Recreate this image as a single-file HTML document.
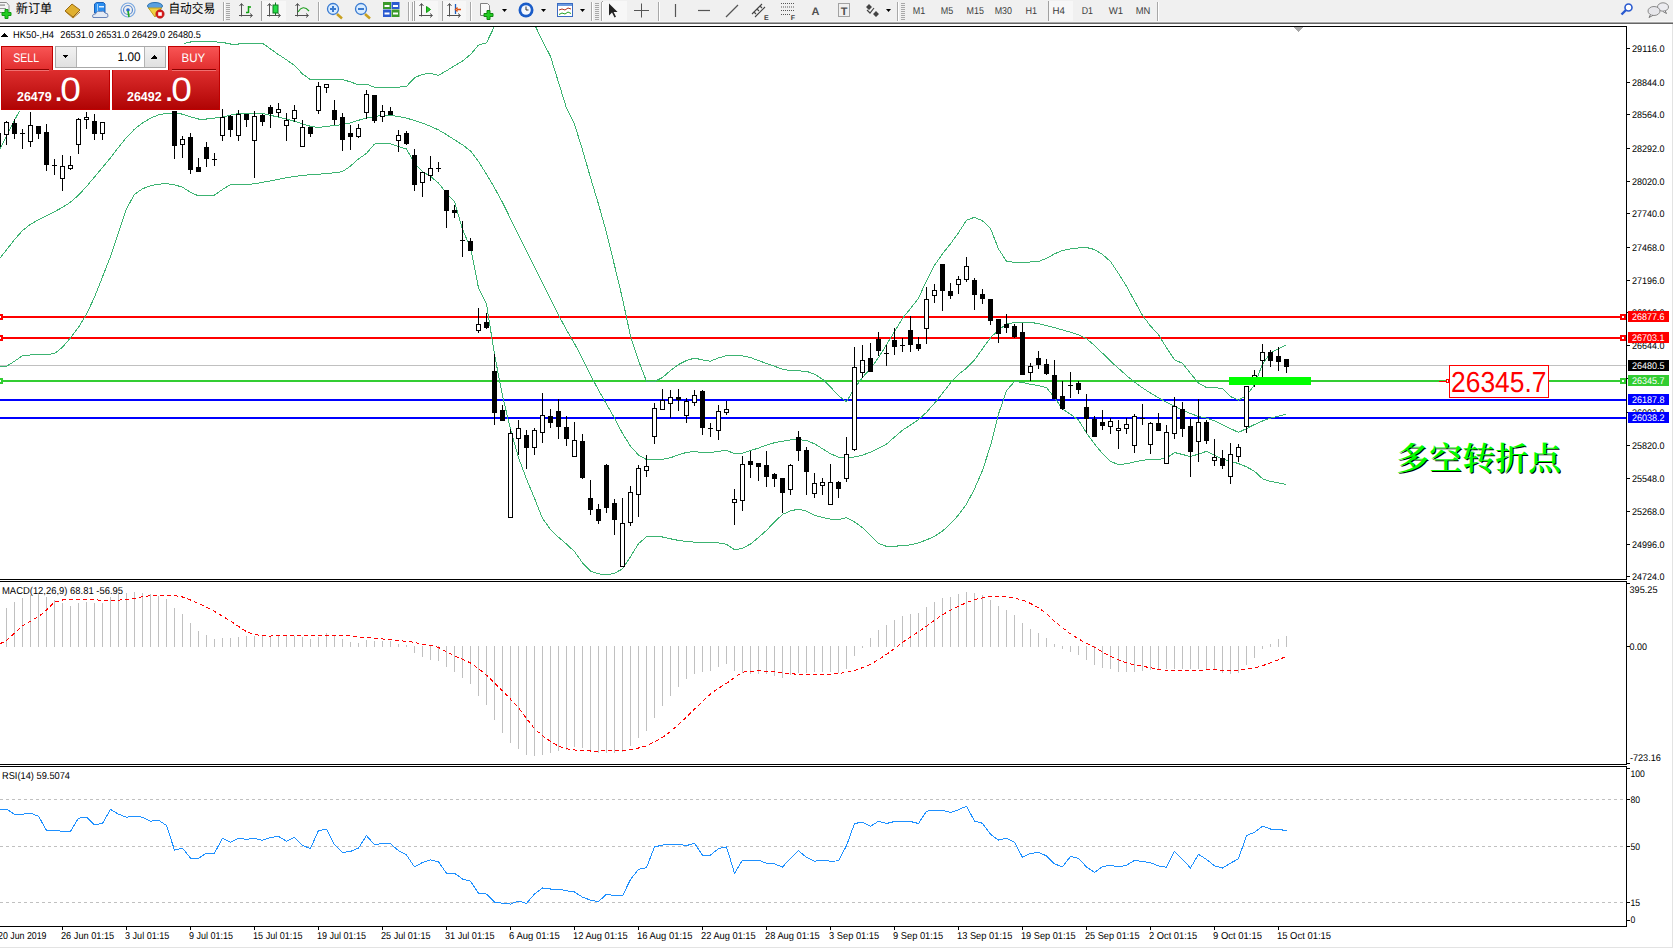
<!DOCTYPE html>
<html><head><meta charset="utf-8"><title>HK50-,H4</title>
<style>html,body{margin:0;padding:0;background:#f0f0f0;overflow:hidden}svg{display:block}text{white-space:pre}</style>
</head><body>
<svg width="1673" height="948" viewBox="0 0 1673 948" shape-rendering="crispEdges" text-rendering="geometricPrecision">
<rect x="0" y="0" width="1673" height="948" fill="#f0f0f0"/>
<rect x="0" y="21" width="1673" height="1" fill="#f6f6f6"/>
<rect x="0" y="22" width="1673" height="1" fill="#a8a8a8"/>
<rect x="0" y="23" width="1673" height="1" fill="#666666"/>
<rect x="0" y="24" width="1672" height="923" fill="#ffffff"/>
<rect x="1672" y="24" width="1" height="924" fill="#e3e3e3"/>
<rect x="0" y="947" width="1673" height="1" fill="#e3e3e3"/>
<g shape-rendering="geometricPrecision">
<g><path d="M-1.5 2.5h8l2.5 3v7h-10.5z" fill="#f4f4f4" stroke="#8a8a8a"/><rect x="0" y="4.5" width="5" height="1.2" fill="#8a8a8a"/><rect x="0" y="8" width="6" height="1" fill="#9a9a9a"/><path d="M5 9.5h3v3h3v3h-3v3h-3v-3h-3v-3h3z" fill="#22cc22" stroke="#119911" stroke-width="1"/></g>
<text x="15.8" y="13.3" font-size="13" fill="#000" text-anchor="start" font-weight="normal" font-family="'Liberation Sans', 'Noto Sans CJK SC', sans-serif" textLength="36.5" lengthAdjust="spacingAndGlyphs">新订单</text>
<path d="M65 11 L72 4 L80 10 L73 17 Z" fill="#e0b030" stroke="#9a6a10"/><path d="M66 12 L73 18 L80 12" fill="none" stroke="#b07a18"/>
<path d="M94.5 4 l2 -1.5 h7 l1.5 1.5 v9 h-10.5 z" fill="#2a8ef0" stroke="#1a60b8"/><path d="M97.5 4 v9" stroke="#9ad0ff"/><rect x="99" y="6" width="5" height="1.5" fill="#e0f0ff"/><path d="M93 17.5 q-1.5 -3.5 2.5 -3.5 q1 -3.5 5 -2.5 q3 -1.5 4.5 1.5 q3.5 0 3 3 q0 1.5 -2 1.5 z" fill="#e4eaf4" stroke="#6a84b8"/>
<circle cx="128" cy="10" r="7" fill="none" stroke="#7aa8e0" stroke-width="1.2"/><circle cx="128" cy="10" r="4.5" fill="none" stroke="#5a8ad0" stroke-width="1.2"/><circle cx="128" cy="10" r="1.8" fill="#2a6ad0"/><path d="M128 11 L129 17" stroke="#22aa22" stroke-width="1.6"/>
<ellipse cx="155" cy="6" rx="7.5" ry="3.5" fill="#5aa0e0" stroke="#2a70b0"/><path d="M148.5 8 L155 17 L161.5 8 Z" fill="#f0d040" stroke="#c0a020"/><circle cx="160" cy="14" r="4.2" fill="#d81c1c" stroke="#a01010" stroke-width="0.6"/><rect x="158.2" y="12.2" width="3.6" height="3.6" fill="#fff"/>
<text x="168.4" y="13.3" font-size="13" fill="#000" text-anchor="start" font-weight="normal" font-family="'Liberation Sans', 'Noto Sans CJK SC', sans-serif" textLength="46.8" lengthAdjust="spacingAndGlyphs">自动交易</text>
<rect x="223" y="2" width="1" height="19" fill="#a8a8a8"/>
<rect x="224" y="2" width="1" height="19" fill="#ffffff"/>
<rect x="226" y="3" width="4" height="1" fill="#a8a8a8"/>
<rect x="226" y="5" width="4" height="1" fill="#a8a8a8"/>
<rect x="226" y="7" width="4" height="1" fill="#a8a8a8"/>
<rect x="226" y="9" width="4" height="1" fill="#a8a8a8"/>
<rect x="226" y="11" width="4" height="1" fill="#a8a8a8"/>
<rect x="226" y="13" width="4" height="1" fill="#a8a8a8"/>
<rect x="226" y="15" width="4" height="1" fill="#a8a8a8"/>
<rect x="226" y="17" width="4" height="1" fill="#a8a8a8"/>
<rect x="226" y="19" width="4" height="1" fill="#a8a8a8"/>
<rect x="261" y="1" width="25" height="20" fill="#f7f7f7"/>
<rect x="261" y="1" width="1" height="20" fill="#a0a0a0"/>
<rect x="414" y="1" width="24" height="20" fill="#f7f7f7"/>
<rect x="414" y="1" width="1" height="20" fill="#a0a0a0"/>
<rect x="442" y="1" width="24" height="20" fill="#f7f7f7"/>
<rect x="442" y="1" width="1" height="20" fill="#a0a0a0"/>
<rect x="602" y="1" width="25" height="20" fill="#f7f7f7"/>
<rect x="602" y="1" width="1" height="20" fill="#a0a0a0"/>
<rect x="1048" y="1" width="25" height="20" fill="#f7f7f7"/>
<rect x="1048" y="1" width="1" height="20" fill="#a0a0a0"/>
<path d="M241.5 4 v12.5 M239 15.5 h13" stroke="#505050" stroke-width="1" fill="none"/><path d="M239.5 6 l2 -2.5 l2 2.5 M250 13.5 l2.5 2 l-2.5 2" stroke="#505050" fill="none"/>
<path d="M248.5 6 v7 M246 12.5 h2.5 M248.5 7 h2.5" stroke="#10a010" stroke-width="1.5" fill="none"/>
<path d="M269.5 4 v12.5 M267 15.5 h13" stroke="#505050" stroke-width="1" fill="none"/><path d="M267.5 6 l2 -2.5 l2 2.5 M278 13.5 l2.5 2 l-2.5 2" stroke="#505050" fill="none"/>
<rect x="273" y="5" width="5" height="8" fill="#22dd44" stroke="#117722"/><path d="M275.5 2.5v2.5M275.5 13v2" stroke="#117722"/>
<path d="M297.5 4 v12.5 M295 15.5 h13" stroke="#505050" stroke-width="1" fill="none"/><path d="M295.5 6 l2 -2.5 l2 2.5 M306 13.5 l2.5 2 l-2.5 2" stroke="#505050" fill="none"/>
<path d="M298 12 Q303 4 309 11" stroke="#22a022" stroke-width="1.2" fill="none"/>
<rect x="318" y="2" width="1" height="19" fill="#a8a8a8"/>
<rect x="319" y="2" width="1" height="19" fill="#ffffff"/>
<line x1="337" y1="14" x2="342" y2="18.5" stroke="#c8a020" stroke-width="2.5"/><circle cx="333" cy="9" r="5.5" fill="#d8ecff" stroke="#3a7ad0" stroke-width="1.3"/>
<rect x="330" y="8" width="6" height="2" fill="#3a7ad0"/>
<rect x="332" y="6" width="2" height="6" fill="#3a7ad0"/>
<line x1="365" y1="14" x2="370" y2="18.5" stroke="#c8a020" stroke-width="2.5"/><circle cx="361" cy="9" r="5.5" fill="#d8ecff" stroke="#3a7ad0" stroke-width="1.3"/>
<rect x="358" y="8" width="6" height="2" fill="#3a7ad0"/>
<rect x="383" y="2" width="8" height="7" fill="#3a9a2a"/><rect x="391.5" y="2" width="8" height="7" fill="#2a5ad0"/><rect x="383" y="9.5" width="8" height="7.5" fill="#2a5ad0"/><rect x="391.5" y="9.5" width="8" height="7.5" fill="#3a9a2a"/><rect x="384.5" y="5" width="5" height="2" fill="#fff"/><rect x="393" y="5" width="5" height="2" fill="#fff"/><rect x="384.5" y="12.5" width="5" height="2" fill="#fff"/><rect x="393" y="12.5" width="5" height="2" fill="#fff"/>
<rect x="408" y="2" width="1" height="19" fill="#a8a8a8"/>
<rect x="409" y="2" width="1" height="19" fill="#ffffff"/>
<rect x="412" y="2" width="1" height="19" fill="#a8a8a8"/>
<rect x="413" y="2" width="1" height="19" fill="#ffffff"/>
<path d="M421.5 4 v12.5 M419 15.5 h13" stroke="#505050" stroke-width="1" fill="none"/><path d="M419.5 6 l2 -2.5 l2 2.5 M430 13.5 l2.5 2 l-2.5 2" stroke="#505050" fill="none"/>
<path d="M426.5 6.5 l4 3 l-4 3 z" fill="#22cc22" stroke="#119911"/>
<path d="M449.5 4 v12.5 M447 15.5 h13" stroke="#505050" stroke-width="1" fill="none"/><path d="M447.5 6 l2 -2.5 l2 2.5 M458 13.5 l2.5 2 l-2.5 2" stroke="#505050" fill="none"/>
<path d="M455.5 4 v10" stroke="#1a60c0" stroke-width="1.3"/><path d="M461 9.5 h-4 M457.5 7.5 l-2 2 l2 2" stroke="#e05010" stroke-width="1.3" fill="none"/>
<rect x="470" y="2" width="1" height="19" fill="#a8a8a8"/>
<rect x="471" y="2" width="1" height="19" fill="#ffffff"/>
<path d="M480.5 3.5h7l2 2v10h-9z" fill="#fafafa" stroke="#808080"/><path d="M484 13.5h3v-3h3v3h3v3h-3v3h-3v-3h-3z" fill="#22cc22" stroke="#118811"/>
<path d="M502 9 h5 l-2.5 3 z" fill="#000"/>
<circle cx="526" cy="10" r="7.5" fill="#1a5cc8"/><circle cx="526" cy="10" r="4.8" fill="#f4f8ff"/><path d="M526 6.5v3.5h2.5" stroke="#333" fill="none"/>
<path d="M541 9 h5 l-2.5 3 z" fill="#000"/>
<rect x="557.5" y="3.5" width="15" height="13" fill="#fff" stroke="#3a6ac0"/><rect x="558" y="4" width="14" height="2" fill="#6a9ae0"/><path d="M559 10 l3 -1 l3 1 l3 -2 l3 1" stroke="#b03020" fill="none"/><path d="M559 14.5 l3 -1.5 l3 1 l3 -2 l3 1.5" stroke="#20a020" fill="none"/>
<path d="M580 9 h5 l-2.5 3 z" fill="#000"/>
<rect x="591" y="2" width="1" height="19" fill="#a8a8a8"/>
<rect x="592" y="2" width="1" height="19" fill="#ffffff"/>
<rect x="595" y="3" width="4" height="1" fill="#a8a8a8"/>
<rect x="595" y="5" width="4" height="1" fill="#a8a8a8"/>
<rect x="595" y="7" width="4" height="1" fill="#a8a8a8"/>
<rect x="595" y="9" width="4" height="1" fill="#a8a8a8"/>
<rect x="595" y="11" width="4" height="1" fill="#a8a8a8"/>
<rect x="595" y="13" width="4" height="1" fill="#a8a8a8"/>
<rect x="595" y="15" width="4" height="1" fill="#a8a8a8"/>
<rect x="595" y="17" width="4" height="1" fill="#a8a8a8"/>
<rect x="595" y="19" width="4" height="1" fill="#a8a8a8"/>
<rect x="601" y="2" width="1" height="19" fill="#a8a8a8"/>
<rect x="602" y="2" width="1" height="19" fill="#ffffff"/>
<path d="M609 3.5 v12 l3 -3 l2.5 5 l1.5 -0.7 l-2.4 -4.8 h4 z" fill="#222"/>
<path d="M641.5 3.5 v14 M634 10.5 h15" stroke="#555" stroke-width="1"/>
<rect x="658" y="2" width="1" height="19" fill="#a8a8a8"/>
<rect x="659" y="2" width="1" height="19" fill="#ffffff"/>
<path d="M675.5 4 v13" stroke="#555" stroke-width="1.2"/>
<path d="M698 10.5 h12" stroke="#555" stroke-width="1.2"/>
<path d="M726 17 L738 5" stroke="#555" stroke-width="1.2"/>
<path d="M752 14 L762 4 M755 17 L765 7 M754 12 l2 2 M757 9 l2 2 M760 6 l2 2" stroke="#444" stroke-width="1.1" fill="none"/>
<text x="764" y="19.5" font-size="7" fill="#444" text-anchor="start" font-weight="bold" font-family="'Liberation Sans', Arial, sans-serif">E</text>
<path d="M781 3.5 h13" stroke="#555" stroke-dasharray="1,1"/>
<path d="M781 7 h13" stroke="#555" stroke-dasharray="1,1"/>
<path d="M781 10.5 h13" stroke="#555" stroke-dasharray="1,1"/>
<path d="M781 14.5 h9" stroke="#555" stroke-dasharray="1,1"/>
<text x="790.8" y="19.5" font-size="7" fill="#444" text-anchor="start" font-weight="bold" font-family="'Liberation Sans', Arial, sans-serif">F</text>
<text x="815.5" y="14.5" font-size="11" fill="#505050" text-anchor="middle" font-weight="bold" font-family="'Liberation Sans', Arial, sans-serif">A</text>
<rect x="838.5" y="3.5" width="11" height="13" fill="none" stroke="#555" stroke-dasharray="1,1"/>
<text x="844" y="14.5" font-size="11" fill="#505050" text-anchor="middle" font-weight="bold" font-family="'Liberation Sans', Arial, sans-serif">T</text>
<path d="M866 7 l3 -3 l3 3 l-3 3 z M873 14 l3 -3 l3 3 l-3 3 z" fill="#444"/><path d="M867 10 l3 3 l4 -5" stroke="#444" fill="none" stroke-width="1.2"/>
<path d="M886 9 h5 l-2.5 3 z" fill="#000"/>
<rect x="897" y="2" width="1" height="19" fill="#a8a8a8"/>
<rect x="898" y="2" width="1" height="19" fill="#ffffff"/>
<rect x="901" y="3" width="4" height="1" fill="#a8a8a8"/>
<rect x="901" y="5" width="4" height="1" fill="#a8a8a8"/>
<rect x="901" y="7" width="4" height="1" fill="#a8a8a8"/>
<rect x="901" y="9" width="4" height="1" fill="#a8a8a8"/>
<rect x="901" y="11" width="4" height="1" fill="#a8a8a8"/>
<rect x="901" y="13" width="4" height="1" fill="#a8a8a8"/>
<rect x="901" y="15" width="4" height="1" fill="#a8a8a8"/>
<rect x="901" y="17" width="4" height="1" fill="#a8a8a8"/>
<rect x="901" y="19" width="4" height="1" fill="#a8a8a8"/>
<text x="912.7" y="14" font-size="10" fill="#3c3c3c" text-anchor="start" font-weight="normal" font-family="'Liberation Sans', Arial, sans-serif" textLength="12.5" lengthAdjust="spacingAndGlyphs">M1</text>
<text x="940.8" y="14" font-size="10" fill="#3c3c3c" text-anchor="start" font-weight="normal" font-family="'Liberation Sans', Arial, sans-serif" textLength="12.5" lengthAdjust="spacingAndGlyphs">M5</text>
<text x="966.6" y="14" font-size="10" fill="#3c3c3c" text-anchor="start" font-weight="normal" font-family="'Liberation Sans', Arial, sans-serif" textLength="17.3" lengthAdjust="spacingAndGlyphs">M15</text>
<text x="994.7" y="14" font-size="10" fill="#3c3c3c" text-anchor="start" font-weight="normal" font-family="'Liberation Sans', Arial, sans-serif" textLength="17.3" lengthAdjust="spacingAndGlyphs">M30</text>
<text x="1025.5" y="14" font-size="10" fill="#3c3c3c" text-anchor="start" font-weight="normal" font-family="'Liberation Sans', Arial, sans-serif" textLength="11.6" lengthAdjust="spacingAndGlyphs">H1</text>
<text x="1052.6" y="14" font-size="10" fill="#3c3c3c" text-anchor="start" font-weight="normal" font-family="'Liberation Sans', Arial, sans-serif" textLength="12.4" lengthAdjust="spacingAndGlyphs">H4</text>
<text x="1081.7" y="14" font-size="10" fill="#3c3c3c" text-anchor="start" font-weight="normal" font-family="'Liberation Sans', Arial, sans-serif" textLength="11.3" lengthAdjust="spacingAndGlyphs">D1</text>
<text x="1108.8" y="14" font-size="10" fill="#3c3c3c" text-anchor="start" font-weight="normal" font-family="'Liberation Sans', Arial, sans-serif" textLength="14.4" lengthAdjust="spacingAndGlyphs">W1</text>
<text x="1135.7" y="14" font-size="10" fill="#3c3c3c" text-anchor="start" font-weight="normal" font-family="'Liberation Sans', Arial, sans-serif" textLength="14.6" lengthAdjust="spacingAndGlyphs">MN</text>
<rect x="1157" y="2" width="1" height="19" fill="#a8a8a8"/>
<rect x="1158" y="2" width="1" height="19" fill="#ffffff"/>
<circle cx="1628.5" cy="7.5" r="3.5" fill="#fff" stroke="#2a5ad0" stroke-width="1.6"/><path d="M1626 10 l-4.5 4.5" stroke="#2a5ad0" stroke-width="2.4"/>
<ellipse cx="1663" cy="7" rx="5.5" ry="4.2" fill="#ececf0" stroke="#8a8a8a"/><path d="M1665 10.5 l1.5 3 l-3.5 -2" fill="#ececf0" stroke="#7a7a7a"/><ellipse cx="1654" cy="11" rx="6" ry="4.5" fill="#e6e6ea" stroke="#8a8a8a"/><path d="M1650.5 14.5 l-1.5 3 l4 -2.2" fill="#e6e6ea" stroke="#7a7a7a"/>
</g>
<rect x="0" y="26" width="1627" height="1" fill="#000000"/>
<rect x="1626" y="26" width="1" height="554" fill="#000000"/>
<rect x="0" y="579" width="1627" height="1" fill="#000000"/>
<rect x="0" y="581" width="1627" height="1" fill="#000000"/>
<rect x="1626" y="581" width="1" height="184" fill="#000000"/>
<rect x="0" y="764" width="1627" height="1" fill="#000000"/>
<rect x="0" y="766" width="1627" height="1" fill="#000000"/>
<rect x="1626" y="766" width="1" height="161" fill="#000000"/>
<rect x="0" y="926" width="1627" height="1" fill="#000000"/>
<rect x="1627" y="48" width="3" height="1" fill="#000"/>
<text x="1632" y="52" font-size="9.6" fill="#000" text-anchor="start" font-weight="normal" font-family="'Liberation Sans', Arial, sans-serif" textLength="32.5" lengthAdjust="spacingAndGlyphs">29116.0</text>
<rect x="1627" y="82" width="3" height="1" fill="#000"/>
<text x="1632" y="86" font-size="9.6" fill="#000" text-anchor="start" font-weight="normal" font-family="'Liberation Sans', Arial, sans-serif" textLength="32.5" lengthAdjust="spacingAndGlyphs">28844.0</text>
<rect x="1627" y="114" width="3" height="1" fill="#000"/>
<text x="1632" y="118" font-size="9.6" fill="#000" text-anchor="start" font-weight="normal" font-family="'Liberation Sans', Arial, sans-serif" textLength="32.5" lengthAdjust="spacingAndGlyphs">28564.0</text>
<rect x="1627" y="148" width="3" height="1" fill="#000"/>
<text x="1632" y="152" font-size="9.6" fill="#000" text-anchor="start" font-weight="normal" font-family="'Liberation Sans', Arial, sans-serif" textLength="32.5" lengthAdjust="spacingAndGlyphs">28292.0</text>
<rect x="1627" y="181" width="3" height="1" fill="#000"/>
<text x="1632" y="185" font-size="9.6" fill="#000" text-anchor="start" font-weight="normal" font-family="'Liberation Sans', Arial, sans-serif" textLength="32.5" lengthAdjust="spacingAndGlyphs">28020.0</text>
<rect x="1627" y="213" width="3" height="1" fill="#000"/>
<text x="1632" y="217" font-size="9.6" fill="#000" text-anchor="start" font-weight="normal" font-family="'Liberation Sans', Arial, sans-serif" textLength="32.5" lengthAdjust="spacingAndGlyphs">27740.0</text>
<rect x="1627" y="247" width="3" height="1" fill="#000"/>
<text x="1632" y="251" font-size="9.6" fill="#000" text-anchor="start" font-weight="normal" font-family="'Liberation Sans', Arial, sans-serif" textLength="32.5" lengthAdjust="spacingAndGlyphs">27468.0</text>
<rect x="1627" y="280" width="3" height="1" fill="#000"/>
<text x="1632" y="284" font-size="9.6" fill="#000" text-anchor="start" font-weight="normal" font-family="'Liberation Sans', Arial, sans-serif" textLength="32.5" lengthAdjust="spacingAndGlyphs">27196.0</text>
<rect x="1627" y="312" width="3" height="1" fill="#000"/>
<text x="1632" y="316" font-size="9.6" fill="#000" text-anchor="start" font-weight="normal" font-family="'Liberation Sans', Arial, sans-serif" textLength="32.5" lengthAdjust="spacingAndGlyphs">26916.0</text>
<rect x="1627" y="345" width="3" height="1" fill="#000"/>
<text x="1632" y="349" font-size="9.6" fill="#000" text-anchor="start" font-weight="normal" font-family="'Liberation Sans', Arial, sans-serif" textLength="32.5" lengthAdjust="spacingAndGlyphs">26644.0</text>
<rect x="1627" y="378" width="3" height="1" fill="#000"/>
<text x="1632" y="382" font-size="9.6" fill="#000" text-anchor="start" font-weight="normal" font-family="'Liberation Sans', Arial, sans-serif" textLength="32.5" lengthAdjust="spacingAndGlyphs">26368.0</text>
<rect x="1627" y="412" width="3" height="1" fill="#000"/>
<text x="1632" y="416" font-size="9.6" fill="#000" text-anchor="start" font-weight="normal" font-family="'Liberation Sans', Arial, sans-serif" textLength="32.5" lengthAdjust="spacingAndGlyphs">26092.0</text>
<rect x="1627" y="445" width="3" height="1" fill="#000"/>
<text x="1632" y="449" font-size="9.6" fill="#000" text-anchor="start" font-weight="normal" font-family="'Liberation Sans', Arial, sans-serif" textLength="32.5" lengthAdjust="spacingAndGlyphs">25820.0</text>
<rect x="1627" y="478" width="3" height="1" fill="#000"/>
<text x="1632" y="482" font-size="9.6" fill="#000" text-anchor="start" font-weight="normal" font-family="'Liberation Sans', Arial, sans-serif" textLength="32.5" lengthAdjust="spacingAndGlyphs">25548.0</text>
<rect x="1627" y="511" width="3" height="1" fill="#000"/>
<text x="1632" y="515" font-size="9.6" fill="#000" text-anchor="start" font-weight="normal" font-family="'Liberation Sans', Arial, sans-serif" textLength="32.5" lengthAdjust="spacingAndGlyphs">25268.0</text>
<rect x="1627" y="544" width="3" height="1" fill="#000"/>
<text x="1632" y="548" font-size="9.6" fill="#000" text-anchor="start" font-weight="normal" font-family="'Liberation Sans', Arial, sans-serif" textLength="32.5" lengthAdjust="spacingAndGlyphs">24996.0</text>
<rect x="1627" y="576" width="3" height="1" fill="#000"/>
<text x="1632" y="580" font-size="9.6" fill="#000" text-anchor="start" font-weight="normal" font-family="'Liberation Sans', Arial, sans-serif" textLength="32.5" lengthAdjust="spacingAndGlyphs">24724.0</text>
<rect x="0" y="365" width="1626" height="1" fill="#c0c0c0"/>
<rect x="0" y="316" width="1626" height="2" fill="#ff0000"/>
<rect x="0" y="337" width="1626" height="2" fill="#ff0000"/>
<rect x="0" y="380" width="1626" height="2" fill="#32cd32"/>
<rect x="0" y="399" width="1626" height="2" fill="#0000ff"/>
<rect x="0" y="417" width="1626" height="2" fill="#0000ff"/>
<rect x="-3" y="314" width="6" height="6" fill="#ff0000"/>
<rect x="-1" y="316" width="2" height="2" fill="#ffffff"/>
<rect x="-3" y="335" width="6" height="6" fill="#ff0000"/>
<rect x="-1" y="337" width="2" height="2" fill="#ffffff"/>
<rect x="-3" y="378" width="6" height="6" fill="#32cd32"/>
<rect x="-1" y="380" width="2" height="2" fill="#ffffff"/>
<rect x="1620" y="314" width="6" height="6" fill="#ff0000"/>
<rect x="1622" y="316" width="2" height="2" fill="#ffffff"/>
<rect x="1620" y="335" width="6" height="6" fill="#ff0000"/>
<rect x="1622" y="337" width="2" height="2" fill="#ffffff"/>
<rect x="1620" y="378" width="6" height="6" fill="#32cd32"/>
<rect x="1622" y="380" width="2" height="2" fill="#ffffff"/>
<clipPath id="cMain"><rect x="0" y="27" width="1626" height="552"/></clipPath>
<g clip-path="url(#cMain)" shape-rendering="crispEdges">
<polyline points="0.0,148.7 6.5,135.9 14.5,120.2 22.5,105.6 30.5,92.2 38.5,79.0 46.5,66.0 54.5,61.2 62.5,58.9 70.5,57.4 78.5,56.2 86.5,55.1 94.5,54.2 102.5,53.4 110.5,52.7 118.5,52.1 126.5,51.6 134.5,51.3 142.5,51.0 150.5,50.6 158.5,50.1 166.5,49.2 174.5,47.4 182.5,43.8 190.5,42.0 198.5,41.8 206.5,41.8 214.5,41.8 222.5,42.4 230.5,44.0 238.5,44.0 246.5,43.7 254.5,43.3 262.5,43.2 270.5,48.9 278.5,54.6 286.5,59.8 294.5,65.5 302.5,73.9 310.5,79.8 318.5,79.3 326.5,79.1 334.5,79.3 342.5,79.7 350.5,81.8 358.5,84.9 366.5,84.2 374.5,87.2 382.5,87.2 390.5,87.2 398.5,87.2 406.5,86.4 414.5,77.8 422.5,74.2 430.5,73.5 438.5,75.3 446.5,70.8 454.5,65.8 462.5,61.0 470.5,54.5 478.5,45.1 486.5,42.8 494.5,26.3 496.0,20.0" fill="none" stroke="#3cb371" stroke-width="1"/>
<polyline points="533.0,20.0 534.5,24.4 542.5,40.8 550.5,56.5 558.5,82.3 566.5,108.2 574.5,124.3 582.5,149.8 590.5,177.7 598.5,204.1 606.5,232.8 614.5,265.4 622.5,298.7 630.5,336.1 638.5,360.5 646.5,381.4 654.5,381.5 662.5,377.5 670.5,370.6 678.5,364.5 686.5,360.5 694.5,358.1 702.5,359.9 710.5,361.2 718.5,357.9 726.5,355.6 734.5,355.7 742.5,355.9 750.5,357.6 758.5,360.5 766.5,363.5 774.5,366.3 782.5,369.1 790.5,370.6 798.5,370.9 806.5,371.3 814.5,374.1 822.5,379.2 830.5,386.9 838.5,395.8 846.5,401.8 854.5,388.5 862.5,377.4 870.5,368.6 878.5,357.6 886.5,344.8 894.5,331.6 902.5,318.4 910.5,308.5 918.5,298.2 926.5,280.7 934.5,265.4 942.5,253.8 950.5,243.8 958.5,232.7 966.5,220.3 974.5,217.3 982.5,220.8 990.5,228.5 998.5,248.9 1006.5,261.2 1014.5,262.4 1022.5,262.3 1030.5,262.0 1038.5,261.6 1046.5,258.3 1054.5,253.9 1062.5,250.5 1070.5,249.0 1078.5,247.9 1086.5,247.5 1094.5,249.5 1102.5,254.5 1110.5,261.6 1118.5,273.4 1126.5,286.3 1134.5,300.9 1142.5,315.3 1150.5,326.0 1158.5,334.8 1166.5,347.7 1174.5,359.8 1182.5,363.4 1190.5,373.3 1198.5,383.0 1206.5,387.6 1214.5,387.6 1222.5,388.5 1230.5,396.6 1238.5,400.2 1246.5,395.6 1254.5,384.8 1262.5,364.1 1270.5,352.9 1278.5,348.6 1285.6,345.2" fill="none" stroke="#3cb371" stroke-width="1"/>
<polyline points="0.0,258.0 6.5,249.9 14.5,239.6 22.5,230.6 30.5,224.3 38.5,219.7 46.5,215.6 54.5,211.7 62.5,207.4 70.5,202.2 78.5,195.1 86.5,186.5 94.5,177.0 102.5,167.5 110.5,157.8 118.5,147.4 126.5,137.4 134.5,129.2 142.5,123.0 150.5,118.2 158.5,114.8 166.5,113.3 174.5,113.3 182.5,114.1 190.5,116.8 198.5,119.0 206.5,119.0 214.5,118.1 222.5,117.0 230.5,115.1 238.5,113.6 246.5,113.5 254.5,113.4 262.5,113.4 270.5,115.3 278.5,117.2 286.5,119.0 294.5,121.3 302.5,123.8 310.5,126.3 318.5,127.5 326.5,126.4 334.5,125.5 342.5,124.6 350.5,122.9 358.5,120.3 366.5,118.1 374.5,116.5 382.5,115.3 390.5,115.3 398.5,116.5 406.5,118.2 414.5,120.4 422.5,123.1 430.5,126.3 438.5,129.9 446.5,134.6 454.5,139.8 462.5,144.8 470.5,151.0 478.5,161.4 486.5,174.3 494.5,187.8 502.5,202.5 510.5,218.6 518.5,234.8 526.5,250.9 534.5,266.9 542.5,282.7 550.5,298.8 558.5,315.1 566.5,330.0 574.5,343.6 582.5,358.7 590.5,375.1 598.5,390.1 606.5,404.2 614.5,418.1 622.5,433.4 630.5,446.2 638.5,455.0 646.5,459.5 654.5,459.5 662.5,459.4 670.5,457.7 678.5,454.9 686.5,452.4 694.5,451.6 702.5,452.6 710.5,452.7 718.5,451.3 726.5,450.4 734.5,453.6 742.5,453.1 750.5,450.6 758.5,448.1 766.5,445.1 774.5,442.7 782.5,441.2 790.5,440.0 798.5,439.6 806.5,440.5 814.5,443.8 822.5,448.7 830.5,453.8 838.5,457.1 846.5,457.9 854.5,457.0 862.5,455.1 870.5,452.2 878.5,448.4 886.5,444.1 894.5,437.1 902.5,430.2 910.5,425.0 918.5,419.6 926.5,412.3 934.5,403.2 942.5,393.3 950.5,382.8 958.5,374.3 966.5,368.2 974.5,360.0 982.5,348.7 990.5,337.7 998.5,330.0 1006.5,324.1 1014.5,322.4 1022.5,322.4 1030.5,322.4 1038.5,323.6 1046.5,325.7 1054.5,327.7 1062.5,329.9 1070.5,332.2 1078.5,334.9 1086.5,338.8 1094.5,345.3 1102.5,353.2 1110.5,361.2 1118.5,368.3 1126.5,375.5 1134.5,382.1 1142.5,387.9 1150.5,393.1 1158.5,397.8 1166.5,402.3 1174.5,406.5 1182.5,410.2 1190.5,413.6 1198.5,416.4 1206.5,418.1 1214.5,420.9 1222.5,424.6 1230.5,428.6 1238.5,432.4 1246.5,428.6 1254.5,424.5 1262.5,421.0 1270.5,418.2 1278.5,416.1 1285.6,414.4" fill="none" stroke="#3cb371" stroke-width="1"/>
<polyline points="0.0,367.0 6.5,366.4 14.5,361.2 22.5,355.7 30.5,355.0 38.5,354.8 46.5,354.5 54.5,353.7 62.5,347.1 70.5,338.0 78.5,327.3 86.5,314.3 94.5,297.1 102.5,276.9 110.5,256.4 118.5,232.4 126.5,208.7 134.5,194.4 142.5,188.8 150.5,185.7 158.5,184.2 166.5,183.6 174.5,184.8 182.5,187.2 190.5,192.3 198.5,195.9 206.5,195.8 214.5,195.1 222.5,189.5 230.5,184.6 238.5,184.6 246.5,184.5 254.5,183.8 262.5,182.3 270.5,180.9 278.5,179.3 286.5,177.8 294.5,176.4 302.5,175.4 310.5,174.7 318.5,174.2 326.5,173.5 334.5,172.8 342.5,171.6 350.5,166.1 358.5,158.9 366.5,153.4 374.5,144.1 382.5,143.3 390.5,143.7 398.5,146.4 406.5,149.0 414.5,163.4 422.5,171.8 430.5,176.3 438.5,183.1 446.5,193.3 454.5,201.3 462.5,229.3 470.5,247.7 478.5,287.9 486.5,304.0 494.5,354.5 502.5,395.9 510.5,429.2 518.5,457.6 526.5,479.0 534.5,498.3 542.5,518.5 550.5,529.4 558.5,537.2 566.5,544.0 574.5,551.6 582.5,562.8 590.5,571.1 598.5,573.8 606.5,574.9 614.5,573.2 622.5,568.9 630.5,556.7 638.5,543.6 646.5,536.8 654.5,536.3 662.5,537.0 670.5,538.8 678.5,540.4 686.5,541.4 694.5,542.2 702.5,542.6 710.5,542.7 718.5,542.9 726.5,544.3 734.5,549.8 742.5,548.3 750.5,544.0 758.5,537.5 766.5,530.4 774.5,522.0 782.5,514.4 790.5,510.9 798.5,509.1 806.5,511.2 814.5,515.4 822.5,517.5 830.5,519.1 838.5,519.5 846.5,517.7 854.5,521.9 862.5,527.7 870.5,535.7 878.5,543.4 886.5,546.4 894.5,546.2 902.5,545.7 910.5,544.8 918.5,542.8 926.5,539.9 934.5,536.4 942.5,531.0 950.5,523.8 958.5,515.0 966.5,504.2 974.5,488.9 982.5,470.4 990.5,445.7 998.5,414.0 1006.5,390.7 1014.5,381.5 1022.5,382.5 1030.5,384.3 1038.5,385.6 1046.5,387.7 1054.5,397.5 1062.5,409.1 1070.5,414.4 1078.5,420.0 1086.5,433.0 1094.5,443.8 1102.5,453.7 1110.5,461.4 1118.5,464.6 1126.5,463.8 1134.5,461.9 1142.5,460.2 1150.5,459.6 1158.5,459.4 1166.5,458.2 1174.5,452.5 1182.5,454.5 1190.5,456.6 1198.5,454.1 1206.5,451.3 1214.5,455.2 1222.5,459.2 1230.5,461.2 1238.5,463.6 1246.5,466.8 1254.5,471.3 1262.5,478.7 1270.5,481.4 1278.5,482.9 1285.6,484.3" fill="none" stroke="#3cb371" stroke-width="1"/>
</g>
<rect x="-2" y="130" width="1" height="21" fill="#000"/>
<rect x="-4" y="133" width="5" height="14" fill="#000"/>
<rect x="6" y="121" width="1" height="24" fill="#000"/>
<rect x="4" y="122" width="5" height="13" fill="#000"/>
<rect x="5" y="123" width="3" height="11" fill="#fff"/>
<rect x="14" y="119" width="1" height="20" fill="#000"/>
<rect x="12" y="123" width="5" height="11" fill="#000"/>
<rect x="22" y="129" width="1" height="20" fill="#000"/>
<rect x="20" y="133" width="5" height="1" fill="#000"/>
<rect x="30" y="112" width="1" height="35" fill="#000"/>
<rect x="28" y="125" width="5" height="17" fill="#000"/>
<rect x="29" y="126" width="3" height="15" fill="#fff"/>
<rect x="38" y="126" width="1" height="13" fill="#000"/>
<rect x="36" y="126" width="5" height="8" fill="#000"/>
<rect x="46" y="124" width="1" height="47" fill="#000"/>
<rect x="44" y="132" width="5" height="33" fill="#000"/>
<rect x="54" y="159" width="1" height="16" fill="#000"/>
<rect x="52" y="165" width="5" height="1" fill="#000"/>
<rect x="62" y="155" width="1" height="36" fill="#000"/>
<rect x="60" y="166" width="5" height="13" fill="#000"/>
<rect x="61" y="167" width="3" height="11" fill="#fff"/>
<rect x="70" y="156" width="1" height="14" fill="#000"/>
<rect x="68" y="165" width="5" height="4" fill="#000"/>
<rect x="69" y="166" width="3" height="2" fill="#fff"/>
<rect x="78" y="118" width="1" height="36" fill="#000"/>
<rect x="76" y="119" width="5" height="26" fill="#000"/>
<rect x="77" y="120" width="3" height="24" fill="#fff"/>
<rect x="86" y="112" width="1" height="17" fill="#000"/>
<rect x="84" y="117" width="5" height="3" fill="#000"/>
<rect x="85" y="118" width="3" height="1" fill="#fff"/>
<rect x="94" y="114" width="1" height="26" fill="#000"/>
<rect x="92" y="121" width="5" height="13" fill="#000"/>
<rect x="102" y="122" width="1" height="18" fill="#000"/>
<rect x="100" y="122" width="5" height="12" fill="#000"/>
<rect x="101" y="123" width="3" height="10" fill="#fff"/>
<rect x="174" y="90" width="1" height="69" fill="#000"/>
<rect x="172" y="95" width="5" height="51" fill="#000"/>
<rect x="182" y="136" width="1" height="22" fill="#000"/>
<rect x="180" y="139" width="5" height="6" fill="#000"/>
<rect x="181" y="140" width="3" height="4" fill="#fff"/>
<rect x="190" y="133" width="1" height="41" fill="#000"/>
<rect x="188" y="137" width="5" height="33" fill="#000"/>
<rect x="198" y="158" width="1" height="14" fill="#000"/>
<rect x="196" y="167" width="5" height="5" fill="#000"/>
<rect x="206" y="142" width="1" height="25" fill="#000"/>
<rect x="204" y="147" width="5" height="12" fill="#000"/>
<rect x="214" y="153" width="1" height="13" fill="#000"/>
<rect x="212" y="159" width="5" height="1" fill="#000"/>
<rect x="222" y="109" width="1" height="32" fill="#000"/>
<rect x="220" y="117" width="5" height="19" fill="#000"/>
<rect x="221" y="118" width="3" height="17" fill="#fff"/>
<rect x="230" y="115" width="1" height="22" fill="#000"/>
<rect x="228" y="116" width="5" height="14" fill="#000"/>
<rect x="238" y="110" width="1" height="31" fill="#000"/>
<rect x="236" y="114" width="5" height="22" fill="#000"/>
<rect x="237" y="115" width="3" height="20" fill="#fff"/>
<rect x="246" y="114" width="1" height="13" fill="#000"/>
<rect x="244" y="114" width="5" height="6" fill="#000"/>
<rect x="254" y="111" width="1" height="67" fill="#000"/>
<rect x="252" y="116" width="5" height="25" fill="#000"/>
<rect x="253" y="117" width="3" height="23" fill="#fff"/>
<rect x="262" y="114" width="1" height="12" fill="#000"/>
<rect x="260" y="115" width="5" height="7" fill="#000"/>
<rect x="270" y="105" width="1" height="23" fill="#000"/>
<rect x="268" y="107" width="5" height="7" fill="#000"/>
<rect x="278" y="103" width="1" height="14" fill="#000"/>
<rect x="276" y="109" width="5" height="4" fill="#000"/>
<rect x="277" y="110" width="3" height="2" fill="#fff"/>
<rect x="286" y="113" width="1" height="28" fill="#000"/>
<rect x="284" y="120" width="5" height="6" fill="#000"/>
<rect x="285" y="121" width="3" height="4" fill="#fff"/>
<rect x="294" y="105" width="1" height="17" fill="#000"/>
<rect x="292" y="110" width="5" height="9" fill="#000"/>
<rect x="293" y="111" width="3" height="7" fill="#fff"/>
<rect x="302" y="120" width="1" height="27" fill="#000"/>
<rect x="300" y="127" width="5" height="20" fill="#000"/>
<rect x="301" y="128" width="3" height="18" fill="#fff"/>
<rect x="310" y="127" width="1" height="10" fill="#000"/>
<rect x="308" y="127" width="5" height="7" fill="#000"/>
<rect x="318" y="82" width="1" height="32" fill="#000"/>
<rect x="316" y="86" width="5" height="25" fill="#000"/>
<rect x="317" y="87" width="3" height="23" fill="#fff"/>
<rect x="326" y="84" width="1" height="9" fill="#000"/>
<rect x="324" y="84" width="5" height="4" fill="#000"/>
<rect x="325" y="85" width="3" height="2" fill="#fff"/>
<rect x="334" y="100" width="1" height="25" fill="#000"/>
<rect x="332" y="110" width="5" height="10" fill="#000"/>
<rect x="342" y="113" width="1" height="38" fill="#000"/>
<rect x="340" y="117" width="5" height="23" fill="#000"/>
<rect x="350" y="125" width="1" height="25" fill="#000"/>
<rect x="348" y="133" width="5" height="4" fill="#000"/>
<rect x="358" y="124" width="1" height="14" fill="#000"/>
<rect x="356" y="128" width="5" height="9" fill="#000"/>
<rect x="357" y="129" width="3" height="7" fill="#fff"/>
<rect x="366" y="90" width="1" height="29" fill="#000"/>
<rect x="364" y="94" width="5" height="19" fill="#000"/>
<rect x="365" y="95" width="3" height="17" fill="#fff"/>
<rect x="374" y="95" width="1" height="28" fill="#000"/>
<rect x="372" y="95" width="5" height="26" fill="#000"/>
<rect x="382" y="105" width="1" height="17" fill="#000"/>
<rect x="380" y="111" width="5" height="6" fill="#000"/>
<rect x="381" y="112" width="3" height="4" fill="#fff"/>
<rect x="390" y="107" width="1" height="8" fill="#000"/>
<rect x="388" y="111" width="5" height="4" fill="#000"/>
<rect x="398" y="130" width="1" height="22" fill="#000"/>
<rect x="396" y="135" width="5" height="6" fill="#000"/>
<rect x="397" y="136" width="3" height="4" fill="#fff"/>
<rect x="406" y="131" width="1" height="14" fill="#000"/>
<rect x="404" y="133" width="5" height="11" fill="#000"/>
<rect x="414" y="149" width="1" height="42" fill="#000"/>
<rect x="412" y="155" width="5" height="30" fill="#000"/>
<rect x="422" y="172" width="1" height="25" fill="#000"/>
<rect x="420" y="172" width="5" height="11" fill="#000"/>
<rect x="421" y="173" width="3" height="9" fill="#fff"/>
<rect x="430" y="156" width="1" height="25" fill="#000"/>
<rect x="428" y="168" width="5" height="8" fill="#000"/>
<rect x="429" y="169" width="3" height="6" fill="#fff"/>
<rect x="438" y="162" width="1" height="10" fill="#000"/>
<rect x="436" y="168" width="5" height="1" fill="#000"/>
<rect x="446" y="190" width="1" height="38" fill="#000"/>
<rect x="444" y="190" width="5" height="21" fill="#000"/>
<rect x="454" y="205" width="1" height="13" fill="#000"/>
<rect x="452" y="210" width="5" height="3" fill="#000"/>
<rect x="462" y="221" width="1" height="36" fill="#000"/>
<rect x="460" y="240" width="5" height="1" fill="#000"/>
<rect x="470" y="238" width="1" height="13" fill="#000"/>
<rect x="468" y="241" width="5" height="10" fill="#000"/>
<rect x="478" y="308" width="1" height="25" fill="#000"/>
<rect x="476" y="324" width="5" height="7" fill="#000"/>
<rect x="477" y="325" width="3" height="5" fill="#fff"/>
<rect x="486" y="313" width="1" height="16" fill="#000"/>
<rect x="484" y="322" width="5" height="6" fill="#000"/>
<rect x="494" y="354" width="1" height="71" fill="#000"/>
<rect x="492" y="371" width="5" height="42" fill="#000"/>
<rect x="502" y="405" width="1" height="16" fill="#000"/>
<rect x="500" y="410" width="5" height="11" fill="#000"/>
<rect x="510" y="429" width="1" height="89" fill="#000"/>
<rect x="508" y="433" width="5" height="85" fill="#000"/>
<rect x="509" y="434" width="3" height="83" fill="#fff"/>
<rect x="518" y="420" width="1" height="35" fill="#000"/>
<rect x="516" y="428" width="5" height="11" fill="#000"/>
<rect x="517" y="429" width="3" height="9" fill="#fff"/>
<rect x="526" y="430" width="1" height="39" fill="#000"/>
<rect x="524" y="435" width="5" height="13" fill="#000"/>
<rect x="534" y="428" width="1" height="27" fill="#000"/>
<rect x="532" y="430" width="5" height="18" fill="#000"/>
<rect x="533" y="431" width="3" height="16" fill="#fff"/>
<rect x="542" y="393" width="1" height="50" fill="#000"/>
<rect x="540" y="415" width="5" height="18" fill="#000"/>
<rect x="541" y="416" width="3" height="16" fill="#fff"/>
<rect x="550" y="409" width="1" height="19" fill="#000"/>
<rect x="548" y="416" width="5" height="7" fill="#000"/>
<rect x="558" y="399" width="1" height="40" fill="#000"/>
<rect x="556" y="411" width="5" height="16" fill="#000"/>
<rect x="566" y="416" width="1" height="30" fill="#000"/>
<rect x="564" y="427" width="5" height="12" fill="#000"/>
<rect x="574" y="422" width="1" height="35" fill="#000"/>
<rect x="572" y="440" width="5" height="17" fill="#000"/>
<rect x="573" y="441" width="3" height="15" fill="#fff"/>
<rect x="582" y="434" width="1" height="45" fill="#000"/>
<rect x="580" y="441" width="5" height="37" fill="#000"/>
<rect x="590" y="480" width="1" height="35" fill="#000"/>
<rect x="588" y="498" width="5" height="12" fill="#000"/>
<rect x="598" y="504" width="1" height="20" fill="#000"/>
<rect x="596" y="509" width="5" height="12" fill="#000"/>
<rect x="606" y="464" width="1" height="49" fill="#000"/>
<rect x="604" y="465" width="5" height="43" fill="#000"/>
<rect x="614" y="499" width="1" height="36" fill="#000"/>
<rect x="612" y="503" width="5" height="17" fill="#000"/>
<rect x="622" y="498" width="1" height="69" fill="#000"/>
<rect x="620" y="523" width="5" height="44" fill="#000"/>
<rect x="621" y="524" width="3" height="42" fill="#fff"/>
<rect x="630" y="486" width="1" height="40" fill="#000"/>
<rect x="628" y="492" width="5" height="31" fill="#000"/>
<rect x="629" y="493" width="3" height="29" fill="#fff"/>
<rect x="638" y="465" width="1" height="52" fill="#000"/>
<rect x="636" y="468" width="5" height="27" fill="#000"/>
<rect x="637" y="469" width="3" height="25" fill="#fff"/>
<rect x="646" y="455" width="1" height="22" fill="#000"/>
<rect x="644" y="466" width="5" height="5" fill="#000"/>
<rect x="645" y="467" width="3" height="3" fill="#fff"/>
<rect x="654" y="403" width="1" height="41" fill="#000"/>
<rect x="652" y="408" width="5" height="29" fill="#000"/>
<rect x="653" y="409" width="3" height="27" fill="#fff"/>
<rect x="662" y="389" width="1" height="21" fill="#000"/>
<rect x="660" y="400" width="5" height="10" fill="#000"/>
<rect x="661" y="401" width="3" height="8" fill="#fff"/>
<rect x="670" y="390" width="1" height="28" fill="#000"/>
<rect x="668" y="397" width="5" height="7" fill="#000"/>
<rect x="669" y="398" width="3" height="5" fill="#fff"/>
<rect x="678" y="389" width="1" height="22" fill="#000"/>
<rect x="676" y="397" width="5" height="3" fill="#000"/>
<rect x="686" y="398" width="1" height="25" fill="#000"/>
<rect x="684" y="401" width="5" height="15" fill="#000"/>
<rect x="685" y="402" width="3" height="13" fill="#fff"/>
<rect x="694" y="390" width="1" height="16" fill="#000"/>
<rect x="692" y="395" width="5" height="8" fill="#000"/>
<rect x="693" y="396" width="3" height="6" fill="#fff"/>
<rect x="702" y="390" width="1" height="45" fill="#000"/>
<rect x="700" y="391" width="5" height="37" fill="#000"/>
<rect x="710" y="423" width="1" height="14" fill="#000"/>
<rect x="708" y="428" width="5" height="1" fill="#000"/>
<rect x="718" y="405" width="1" height="35" fill="#000"/>
<rect x="716" y="411" width="5" height="20" fill="#000"/>
<rect x="717" y="412" width="3" height="18" fill="#fff"/>
<rect x="726" y="401" width="1" height="14" fill="#000"/>
<rect x="724" y="409" width="5" height="4" fill="#000"/>
<rect x="725" y="410" width="3" height="2" fill="#fff"/>
<rect x="734" y="489" width="1" height="36" fill="#000"/>
<rect x="732" y="499" width="5" height="4" fill="#000"/>
<rect x="733" y="500" width="3" height="2" fill="#fff"/>
<rect x="742" y="456" width="1" height="55" fill="#000"/>
<rect x="740" y="464" width="5" height="37" fill="#000"/>
<rect x="741" y="465" width="3" height="35" fill="#fff"/>
<rect x="750" y="451" width="1" height="27" fill="#000"/>
<rect x="748" y="461" width="5" height="4" fill="#000"/>
<rect x="758" y="463" width="1" height="18" fill="#000"/>
<rect x="756" y="463" width="5" height="4" fill="#000"/>
<rect x="766" y="451" width="1" height="36" fill="#000"/>
<rect x="764" y="465" width="5" height="12" fill="#000"/>
<rect x="774" y="473" width="1" height="14" fill="#000"/>
<rect x="772" y="474" width="5" height="5" fill="#000"/>
<rect x="782" y="478" width="1" height="35" fill="#000"/>
<rect x="780" y="478" width="5" height="15" fill="#000"/>
<rect x="790" y="464" width="1" height="31" fill="#000"/>
<rect x="788" y="465" width="5" height="25" fill="#000"/>
<rect x="789" y="466" width="3" height="23" fill="#fff"/>
<rect x="798" y="431" width="1" height="30" fill="#000"/>
<rect x="796" y="437" width="5" height="14" fill="#000"/>
<rect x="806" y="447" width="1" height="48" fill="#000"/>
<rect x="804" y="450" width="5" height="22" fill="#000"/>
<rect x="814" y="473" width="1" height="25" fill="#000"/>
<rect x="812" y="483" width="5" height="11" fill="#000"/>
<rect x="813" y="484" width="3" height="9" fill="#fff"/>
<rect x="822" y="478" width="1" height="17" fill="#000"/>
<rect x="820" y="482" width="5" height="4" fill="#000"/>
<rect x="821" y="483" width="3" height="2" fill="#fff"/>
<rect x="830" y="464" width="1" height="41" fill="#000"/>
<rect x="828" y="482" width="5" height="23" fill="#000"/>
<rect x="829" y="483" width="3" height="21" fill="#fff"/>
<rect x="838" y="481" width="1" height="17" fill="#000"/>
<rect x="836" y="482" width="5" height="7" fill="#000"/>
<rect x="846" y="437" width="1" height="45" fill="#000"/>
<rect x="844" y="454" width="5" height="25" fill="#000"/>
<rect x="845" y="455" width="3" height="23" fill="#fff"/>
<rect x="854" y="347" width="1" height="104" fill="#000"/>
<rect x="852" y="367" width="5" height="83" fill="#000"/>
<rect x="853" y="368" width="3" height="81" fill="#fff"/>
<rect x="862" y="345" width="1" height="33" fill="#000"/>
<rect x="860" y="360" width="5" height="13" fill="#000"/>
<rect x="861" y="361" width="3" height="11" fill="#fff"/>
<rect x="870" y="343" width="1" height="29" fill="#000"/>
<rect x="868" y="358" width="5" height="14" fill="#000"/>
<rect x="878" y="332" width="1" height="24" fill="#000"/>
<rect x="876" y="339" width="5" height="12" fill="#000"/>
<rect x="886" y="345" width="1" height="21" fill="#000"/>
<rect x="884" y="353" width="5" height="1" fill="#000"/>
<rect x="894" y="328" width="1" height="27" fill="#000"/>
<rect x="892" y="340" width="5" height="7" fill="#000"/>
<rect x="902" y="338" width="1" height="14" fill="#000"/>
<rect x="900" y="345" width="5" height="1" fill="#000"/>
<rect x="910" y="316" width="1" height="36" fill="#000"/>
<rect x="908" y="330" width="5" height="15" fill="#000"/>
<rect x="918" y="337" width="1" height="14" fill="#000"/>
<rect x="916" y="344" width="5" height="5" fill="#000"/>
<rect x="926" y="287" width="1" height="57" fill="#000"/>
<rect x="924" y="299" width="5" height="30" fill="#000"/>
<rect x="925" y="300" width="3" height="28" fill="#fff"/>
<rect x="934" y="284" width="1" height="19" fill="#000"/>
<rect x="932" y="290" width="5" height="6" fill="#000"/>
<rect x="933" y="291" width="3" height="4" fill="#fff"/>
<rect x="942" y="264" width="1" height="47" fill="#000"/>
<rect x="940" y="264" width="5" height="27" fill="#000"/>
<rect x="950" y="283" width="1" height="16" fill="#000"/>
<rect x="948" y="291" width="5" height="5" fill="#000"/>
<rect x="958" y="276" width="1" height="18" fill="#000"/>
<rect x="956" y="279" width="5" height="6" fill="#000"/>
<rect x="957" y="280" width="3" height="4" fill="#fff"/>
<rect x="966" y="257" width="1" height="25" fill="#000"/>
<rect x="964" y="266" width="5" height="14" fill="#000"/>
<rect x="965" y="267" width="3" height="12" fill="#fff"/>
<rect x="974" y="278" width="1" height="32" fill="#000"/>
<rect x="972" y="280" width="5" height="15" fill="#000"/>
<rect x="982" y="289" width="1" height="15" fill="#000"/>
<rect x="980" y="294" width="5" height="5" fill="#000"/>
<rect x="990" y="299" width="1" height="26" fill="#000"/>
<rect x="988" y="299" width="5" height="22" fill="#000"/>
<rect x="998" y="319" width="1" height="24" fill="#000"/>
<rect x="996" y="319" width="5" height="15" fill="#000"/>
<rect x="1006" y="314" width="1" height="19" fill="#000"/>
<rect x="1004" y="324" width="5" height="4" fill="#000"/>
<rect x="1014" y="324" width="1" height="14" fill="#000"/>
<rect x="1012" y="326" width="5" height="11" fill="#000"/>
<rect x="1022" y="323" width="1" height="52" fill="#000"/>
<rect x="1020" y="332" width="5" height="43" fill="#000"/>
<rect x="1030" y="363" width="1" height="18" fill="#000"/>
<rect x="1028" y="366" width="5" height="7" fill="#000"/>
<rect x="1029" y="367" width="3" height="5" fill="#fff"/>
<rect x="1038" y="351" width="1" height="18" fill="#000"/>
<rect x="1036" y="358" width="5" height="7" fill="#000"/>
<rect x="1046" y="359" width="1" height="16" fill="#000"/>
<rect x="1044" y="364" width="5" height="10" fill="#000"/>
<rect x="1054" y="360" width="1" height="39" fill="#000"/>
<rect x="1052" y="375" width="5" height="24" fill="#000"/>
<rect x="1062" y="381" width="1" height="29" fill="#000"/>
<rect x="1060" y="396" width="5" height="13" fill="#000"/>
<rect x="1070" y="372" width="1" height="26" fill="#000"/>
<rect x="1068" y="385" width="5" height="1" fill="#000"/>
<rect x="1078" y="381" width="1" height="13" fill="#000"/>
<rect x="1076" y="383" width="5" height="7" fill="#000"/>
<rect x="1086" y="394" width="1" height="39" fill="#000"/>
<rect x="1084" y="407" width="5" height="12" fill="#000"/>
<rect x="1094" y="416" width="1" height="21" fill="#000"/>
<rect x="1092" y="419" width="5" height="18" fill="#000"/>
<rect x="1102" y="410" width="1" height="20" fill="#000"/>
<rect x="1100" y="422" width="5" height="4" fill="#000"/>
<rect x="1110" y="418" width="1" height="16" fill="#000"/>
<rect x="1108" y="421" width="5" height="6" fill="#000"/>
<rect x="1109" y="422" width="3" height="4" fill="#fff"/>
<rect x="1118" y="420" width="1" height="29" fill="#000"/>
<rect x="1116" y="428" width="5" height="3" fill="#000"/>
<rect x="1117" y="429" width="3" height="1" fill="#fff"/>
<rect x="1126" y="418" width="1" height="16" fill="#000"/>
<rect x="1124" y="424" width="5" height="5" fill="#000"/>
<rect x="1125" y="425" width="3" height="3" fill="#fff"/>
<rect x="1134" y="414" width="1" height="39" fill="#000"/>
<rect x="1132" y="416" width="5" height="30" fill="#000"/>
<rect x="1133" y="417" width="3" height="28" fill="#fff"/>
<rect x="1142" y="404" width="1" height="21" fill="#000"/>
<rect x="1140" y="418" width="5" height="1" fill="#000"/>
<rect x="1150" y="422" width="1" height="32" fill="#000"/>
<rect x="1148" y="423" width="5" height="22" fill="#000"/>
<rect x="1149" y="424" width="3" height="20" fill="#fff"/>
<rect x="1158" y="413" width="1" height="18" fill="#000"/>
<rect x="1156" y="423" width="5" height="8" fill="#000"/>
<rect x="1166" y="425" width="1" height="39" fill="#000"/>
<rect x="1164" y="432" width="5" height="32" fill="#000"/>
<rect x="1165" y="433" width="3" height="30" fill="#fff"/>
<rect x="1174" y="397" width="1" height="42" fill="#000"/>
<rect x="1172" y="406" width="5" height="28" fill="#000"/>
<rect x="1173" y="407" width="3" height="26" fill="#fff"/>
<rect x="1182" y="402" width="1" height="35" fill="#000"/>
<rect x="1180" y="409" width="5" height="20" fill="#000"/>
<rect x="1190" y="419" width="1" height="58" fill="#000"/>
<rect x="1188" y="426" width="5" height="26" fill="#000"/>
<rect x="1198" y="399" width="1" height="63" fill="#000"/>
<rect x="1196" y="422" width="5" height="20" fill="#000"/>
<rect x="1197" y="423" width="3" height="18" fill="#fff"/>
<rect x="1206" y="420" width="1" height="24" fill="#000"/>
<rect x="1204" y="422" width="5" height="19" fill="#000"/>
<rect x="1214" y="439" width="1" height="27" fill="#000"/>
<rect x="1212" y="457" width="5" height="4" fill="#000"/>
<rect x="1213" y="458" width="3" height="2" fill="#fff"/>
<rect x="1222" y="450" width="1" height="19" fill="#000"/>
<rect x="1220" y="458" width="5" height="8" fill="#000"/>
<rect x="1230" y="443" width="1" height="41" fill="#000"/>
<rect x="1228" y="454" width="5" height="23" fill="#000"/>
<rect x="1229" y="455" width="3" height="21" fill="#fff"/>
<rect x="1238" y="444" width="1" height="18" fill="#000"/>
<rect x="1236" y="447" width="5" height="10" fill="#000"/>
<rect x="1237" y="448" width="3" height="8" fill="#fff"/>
<rect x="1246" y="386" width="1" height="47" fill="#000"/>
<rect x="1244" y="386" width="5" height="41" fill="#000"/>
<rect x="1245" y="387" width="3" height="39" fill="#fff"/>
<rect x="1254" y="370" width="1" height="17" fill="#000"/>
<rect x="1252" y="375" width="5" height="7" fill="#000"/>
<rect x="1253" y="376" width="3" height="5" fill="#fff"/>
<rect x="1262" y="344" width="1" height="34" fill="#000"/>
<rect x="1260" y="352" width="5" height="9" fill="#000"/>
<rect x="1261" y="353" width="3" height="7" fill="#fff"/>
<rect x="1270" y="350" width="1" height="17" fill="#000"/>
<rect x="1268" y="352" width="5" height="9" fill="#000"/>
<rect x="1278" y="347" width="1" height="24" fill="#000"/>
<rect x="1276" y="356" width="5" height="6" fill="#000"/>
<rect x="1286" y="359" width="1" height="14" fill="#000"/>
<rect x="1284" y="359" width="5" height="8" fill="#000"/>
<rect x="1229" y="377" width="82" height="8" fill="#00ff00"/>
<rect x="1628" y="311" width="41" height="11" fill="#ff0000"/>
<text x="1632" y="320" font-size="9.6" fill="#fff" text-anchor="start" font-weight="normal" font-family="'Liberation Sans', Arial, sans-serif" textLength="32.5" lengthAdjust="spacingAndGlyphs">26877.6</text>
<rect x="1628" y="332" width="41" height="11" fill="#ff0000"/>
<text x="1632" y="341" font-size="9.6" fill="#fff" text-anchor="start" font-weight="normal" font-family="'Liberation Sans', Arial, sans-serif" textLength="32.5" lengthAdjust="spacingAndGlyphs">26703.1</text>
<rect x="1628" y="360" width="41" height="11" fill="#000000"/>
<text x="1632" y="369" font-size="9.6" fill="#fff" text-anchor="start" font-weight="normal" font-family="'Liberation Sans', Arial, sans-serif" textLength="32.5" lengthAdjust="spacingAndGlyphs">26480.5</text>
<rect x="1628" y="375" width="41" height="11" fill="#32cd32"/>
<text x="1632" y="384" font-size="9.6" fill="#fff" text-anchor="start" font-weight="normal" font-family="'Liberation Sans', Arial, sans-serif" textLength="32.5" lengthAdjust="spacingAndGlyphs">26345.7</text>
<rect x="1628" y="394" width="41" height="11" fill="#0000ff"/>
<text x="1632" y="403" font-size="9.6" fill="#fff" text-anchor="start" font-weight="normal" font-family="'Liberation Sans', Arial, sans-serif" textLength="32.5" lengthAdjust="spacingAndGlyphs">26187.8</text>
<rect x="1628" y="412" width="41" height="11" fill="#0000ff"/>
<text x="1632" y="421" font-size="9.6" fill="#fff" text-anchor="start" font-weight="normal" font-family="'Liberation Sans', Arial, sans-serif" textLength="32.5" lengthAdjust="spacingAndGlyphs">26038.2</text>
<path d="M1439 381.5 h8" stroke="#ff0000" stroke-width="1"/>
<rect x="1446.5" y="379.5" width="2" height="3" fill="#fff" stroke="#ff0000"/>
<rect x="1449" y="365" width="100" height="33" fill="#ff0000"/>
<rect x="1450" y="366" width="98" height="31" fill="#ffffff"/>
<text x="1451" y="391.8" font-size="29" fill="#ff0000" text-anchor="start" font-weight="normal" font-family="'Liberation Sans', Arial, sans-serif" textLength="95.5" lengthAdjust="spacingAndGlyphs">26345.7</text>
<text x="1397.2" y="471.4" font-size="32.5" fill="#000000" text-anchor="start" font-weight="600" font-family="'Liberation Serif', 'Noto Serif CJK SC', serif" textLength="165" lengthAdjust="spacingAndGlyphs">多空转折点</text>
<text x="1396.2" y="470.4" font-size="32.5" fill="#00ff00" text-anchor="start" font-weight="600" font-family="'Liberation Serif', 'Noto Serif CJK SC', serif" textLength="165" lengthAdjust="spacingAndGlyphs">多空转折点</text>
<path d="M1293 27 h10 l-5 5 z" fill="#a8a8a8"/>
<path d="M1 37 L4.5 32.5 L8 37 Z" fill="#000"/>
<text x="13" y="38" font-size="10" fill="#000" text-anchor="start" font-weight="normal" font-family="'Liberation Sans', Arial, sans-serif" textLength="41" lengthAdjust="spacingAndGlyphs">HK50-,H4</text>
<text x="60.3" y="38" font-size="10" fill="#000" text-anchor="start" font-weight="normal" font-family="'Liberation Sans', Arial, sans-serif" textLength="140.6" lengthAdjust="spacingAndGlyphs">26531.0 26531.0 26429.0 26480.5</text>
<defs><linearGradient id="gTop" x1="0" y1="0" x2="0" y2="1"><stop offset="0" stop-color="#f85454"/><stop offset="1" stop-color="#e02c2c"/></linearGradient><linearGradient id="gBot" x1="0" y1="0" x2="0" y2="1"><stop offset="0" stop-color="#de2e2e"/><stop offset="1" stop-color="#b00404"/></linearGradient><linearGradient id="gSpin" x1="0" y1="0" x2="0" y2="1"><stop offset="0" stop-color="#f2f2f2"/><stop offset="1" stop-color="#e0e0e0"/></linearGradient></defs>
<rect x="0" y="41" width="184" height="5" fill="#ffffff"/>
<rect x="0" y="46" width="221" height="65" fill="#ffffff"/>
<rect x="1" y="46" width="52" height="25" fill="#c00000"/>
<rect x="2" y="47" width="50" height="24" fill="url(#gTop)"/>
<rect x="1" y="70" width="109" height="40" fill="#c00000"/>
<rect x="2" y="70" width="107" height="39" fill="url(#gBot)"/>
<rect x="2" y="70" width="51" height="1" fill="#e23434"/>
<rect x="5" y="69" width="44" height="1" fill="#8a0000"/>
<rect x="5" y="70" width="44" height="1" fill="#f07070"/>
<rect x="168" y="46" width="52" height="25" fill="#c00000"/>
<rect x="169" y="47" width="50" height="24" fill="url(#gTop)"/>
<rect x="112" y="70" width="108" height="40" fill="#c00000"/>
<rect x="113" y="70" width="106" height="39" fill="url(#gBot)"/>
<rect x="169" y="70" width="50" height="1" fill="#e23434"/>
<rect x="172" y="69" width="44" height="1" fill="#8a0000"/>
<rect x="172" y="70" width="44" height="1" fill="#f07070"/>
<rect x="55" y="46" width="111" height="22" fill="#a8a8a8"/>
<rect x="56" y="47" width="20" height="20" fill="url(#gSpin)"/>
<rect x="77" y="47" width="67" height="20" fill="#ffffff"/>
<rect x="76" y="47" width="1" height="20" fill="#b4b4b4"/>
<rect x="144" y="47" width="1" height="20" fill="#b4b4b4"/>
<rect x="145" y="47" width="20" height="20" fill="url(#gSpin)"/>
<path d="M62.5 55 h6 l-3 3.5 z" fill="#000"/>
<path d="M151.5 58.5 h6 l-3 -3.5 z" fill="#000"/>
<text x="140.6" y="60.8" font-size="12.5" fill="#000" text-anchor="end" font-weight="normal" font-family="'Liberation Sans', Arial, sans-serif" textLength="23" lengthAdjust="spacingAndGlyphs">1.00</text>
<text x="13.3" y="62" font-size="12.5" fill="#fff" text-anchor="start" font-weight="normal" font-family="'Liberation Sans', Arial, sans-serif" textLength="25.8" lengthAdjust="spacingAndGlyphs">SELL</text>
<text x="181.5" y="62" font-size="12.5" fill="#fff" text-anchor="start" font-weight="normal" font-family="'Liberation Sans', Arial, sans-serif" textLength="23.7" lengthAdjust="spacingAndGlyphs">BUY</text>
<text x="17" y="101" font-size="13" fill="#fff" text-anchor="start" font-weight="bold" font-family="'Liberation Sans', Arial, sans-serif" textLength="34.6" lengthAdjust="spacingAndGlyphs">26479</text>
<text x="55.2" y="101" font-size="24" fill="#fff" text-anchor="start" font-weight="bold" font-family="'Liberation Sans', Arial, sans-serif">.</text>
<text x="60.2" y="101" font-size="33.5" fill="#fff" text-anchor="start" font-weight="normal" font-family="'Liberation Sans', Arial, sans-serif" textLength="20.6" lengthAdjust="spacingAndGlyphs">0</text>
<text x="127" y="101" font-size="13" fill="#fff" text-anchor="start" font-weight="bold" font-family="'Liberation Sans', Arial, sans-serif" textLength="34.6" lengthAdjust="spacingAndGlyphs">26492</text>
<text x="165.8" y="101" font-size="24" fill="#fff" text-anchor="start" font-weight="bold" font-family="'Liberation Sans', Arial, sans-serif">.</text>
<text x="171.3" y="101" font-size="33.5" fill="#fff" text-anchor="start" font-weight="normal" font-family="'Liberation Sans', Arial, sans-serif" textLength="20.6" lengthAdjust="spacingAndGlyphs">0</text>
<rect x="6" y="608" width="1" height="39" fill="#c0c0c0"/>
<rect x="14" y="602" width="1" height="45" fill="#c0c0c0"/>
<rect x="22" y="598" width="1" height="49" fill="#c0c0c0"/>
<rect x="30" y="595" width="1" height="52" fill="#c0c0c0"/>
<rect x="38" y="594" width="1" height="53" fill="#c0c0c0"/>
<rect x="46" y="597" width="1" height="50" fill="#c0c0c0"/>
<rect x="54" y="600" width="1" height="47" fill="#c0c0c0"/>
<rect x="62" y="603" width="1" height="44" fill="#c0c0c0"/>
<rect x="70" y="606" width="1" height="41" fill="#c0c0c0"/>
<rect x="78" y="603" width="1" height="44" fill="#c0c0c0"/>
<rect x="86" y="602" width="1" height="45" fill="#c0c0c0"/>
<rect x="94" y="603" width="1" height="44" fill="#c0c0c0"/>
<rect x="102" y="603" width="1" height="44" fill="#c0c0c0"/>
<rect x="110" y="597" width="1" height="50" fill="#c0c0c0"/>
<rect x="118" y="594" width="1" height="53" fill="#c0c0c0"/>
<rect x="126" y="593" width="1" height="54" fill="#c0c0c0"/>
<rect x="134" y="592" width="1" height="55" fill="#c0c0c0"/>
<rect x="142" y="593" width="1" height="54" fill="#c0c0c0"/>
<rect x="150" y="594" width="1" height="53" fill="#c0c0c0"/>
<rect x="158" y="596" width="1" height="51" fill="#c0c0c0"/>
<rect x="166" y="599" width="1" height="48" fill="#c0c0c0"/>
<rect x="174" y="608" width="1" height="39" fill="#c0c0c0"/>
<rect x="182" y="614" width="1" height="33" fill="#c0c0c0"/>
<rect x="190" y="623" width="1" height="24" fill="#c0c0c0"/>
<rect x="198" y="631" width="1" height="16" fill="#c0c0c0"/>
<rect x="206" y="635" width="1" height="12" fill="#c0c0c0"/>
<rect x="214" y="639" width="1" height="8" fill="#c0c0c0"/>
<rect x="222" y="638" width="1" height="9" fill="#c0c0c0"/>
<rect x="230" y="638" width="1" height="9" fill="#c0c0c0"/>
<rect x="238" y="637" width="1" height="10" fill="#c0c0c0"/>
<rect x="246" y="636" width="1" height="11" fill="#c0c0c0"/>
<rect x="254" y="636" width="1" height="11" fill="#c0c0c0"/>
<rect x="262" y="636" width="1" height="11" fill="#c0c0c0"/>
<rect x="270" y="637" width="1" height="10" fill="#c0c0c0"/>
<rect x="278" y="635" width="1" height="12" fill="#c0c0c0"/>
<rect x="286" y="636" width="1" height="11" fill="#c0c0c0"/>
<rect x="294" y="636" width="1" height="11" fill="#c0c0c0"/>
<rect x="302" y="637" width="1" height="10" fill="#c0c0c0"/>
<rect x="310" y="639" width="1" height="8" fill="#c0c0c0"/>
<rect x="318" y="637" width="1" height="10" fill="#c0c0c0"/>
<rect x="326" y="633" width="1" height="14" fill="#c0c0c0"/>
<rect x="334" y="636" width="1" height="11" fill="#c0c0c0"/>
<rect x="342" y="639" width="1" height="8" fill="#c0c0c0"/>
<rect x="350" y="642" width="1" height="5" fill="#c0c0c0"/>
<rect x="358" y="643" width="1" height="4" fill="#c0c0c0"/>
<rect x="366" y="640" width="1" height="7" fill="#c0c0c0"/>
<rect x="374" y="641" width="1" height="6" fill="#c0c0c0"/>
<rect x="382" y="641" width="1" height="6" fill="#c0c0c0"/>
<rect x="390" y="641" width="1" height="6" fill="#c0c0c0"/>
<rect x="398" y="644" width="1" height="3" fill="#c0c0c0"/>
<rect x="406" y="645" width="1" height="2" fill="#c0c0c0"/>
<rect x="414" y="646" width="1" height="7" fill="#c0c0c0"/>
<rect x="422" y="646" width="1" height="11" fill="#c0c0c0"/>
<rect x="430" y="646" width="1" height="14" fill="#c0c0c0"/>
<rect x="438" y="646" width="1" height="15" fill="#c0c0c0"/>
<rect x="446" y="646" width="1" height="21" fill="#c0c0c0"/>
<rect x="454" y="646" width="1" height="26" fill="#c0c0c0"/>
<rect x="462" y="646" width="1" height="32" fill="#c0c0c0"/>
<rect x="470" y="646" width="1" height="38" fill="#c0c0c0"/>
<rect x="478" y="646" width="1" height="50" fill="#c0c0c0"/>
<rect x="486" y="646" width="1" height="59" fill="#c0c0c0"/>
<rect x="494" y="646" width="1" height="74" fill="#c0c0c0"/>
<rect x="502" y="646" width="1" height="87" fill="#c0c0c0"/>
<rect x="510" y="646" width="1" height="97" fill="#c0c0c0"/>
<rect x="518" y="646" width="1" height="103" fill="#c0c0c0"/>
<rect x="526" y="646" width="1" height="109" fill="#c0c0c0"/>
<rect x="534" y="646" width="1" height="110" fill="#c0c0c0"/>
<rect x="542" y="646" width="1" height="109" fill="#c0c0c0"/>
<rect x="550" y="646" width="1" height="107" fill="#c0c0c0"/>
<rect x="558" y="646" width="1" height="105" fill="#c0c0c0"/>
<rect x="566" y="646" width="1" height="104" fill="#c0c0c0"/>
<rect x="574" y="646" width="1" height="101" fill="#c0c0c0"/>
<rect x="582" y="646" width="1" height="102" fill="#c0c0c0"/>
<rect x="590" y="646" width="1" height="106" fill="#c0c0c0"/>
<rect x="598" y="646" width="1" height="107" fill="#c0c0c0"/>
<rect x="606" y="646" width="1" height="107" fill="#c0c0c0"/>
<rect x="614" y="646" width="1" height="107" fill="#c0c0c0"/>
<rect x="622" y="646" width="1" height="106" fill="#c0c0c0"/>
<rect x="630" y="646" width="1" height="100" fill="#c0c0c0"/>
<rect x="638" y="646" width="1" height="92" fill="#c0c0c0"/>
<rect x="646" y="646" width="1" height="85" fill="#c0c0c0"/>
<rect x="654" y="646" width="1" height="72" fill="#c0c0c0"/>
<rect x="662" y="646" width="1" height="60" fill="#c0c0c0"/>
<rect x="670" y="646" width="1" height="50" fill="#c0c0c0"/>
<rect x="678" y="646" width="1" height="41" fill="#c0c0c0"/>
<rect x="686" y="646" width="1" height="33" fill="#c0c0c0"/>
<rect x="694" y="646" width="1" height="28" fill="#c0c0c0"/>
<rect x="702" y="646" width="1" height="26" fill="#c0c0c0"/>
<rect x="710" y="646" width="1" height="25" fill="#c0c0c0"/>
<rect x="718" y="646" width="1" height="21" fill="#c0c0c0"/>
<rect x="726" y="646" width="1" height="18" fill="#c0c0c0"/>
<rect x="734" y="646" width="1" height="25" fill="#c0c0c0"/>
<rect x="742" y="646" width="1" height="27" fill="#c0c0c0"/>
<rect x="750" y="646" width="1" height="28" fill="#c0c0c0"/>
<rect x="758" y="646" width="1" height="28" fill="#c0c0c0"/>
<rect x="766" y="646" width="1" height="28" fill="#c0c0c0"/>
<rect x="774" y="646" width="1" height="30" fill="#c0c0c0"/>
<rect x="782" y="646" width="1" height="32" fill="#c0c0c0"/>
<rect x="790" y="646" width="1" height="29" fill="#c0c0c0"/>
<rect x="798" y="646" width="1" height="27" fill="#c0c0c0"/>
<rect x="806" y="646" width="1" height="27" fill="#c0c0c0"/>
<rect x="814" y="646" width="1" height="26" fill="#c0c0c0"/>
<rect x="822" y="646" width="1" height="26" fill="#c0c0c0"/>
<rect x="830" y="646" width="1" height="26" fill="#c0c0c0"/>
<rect x="838" y="646" width="1" height="27" fill="#c0c0c0"/>
<rect x="846" y="646" width="1" height="23" fill="#c0c0c0"/>
<rect x="854" y="646" width="1" height="10" fill="#c0c0c0"/>
<rect x="862" y="646" width="1" height="2" fill="#c0c0c0"/>
<rect x="870" y="638" width="1" height="9" fill="#c0c0c0"/>
<rect x="878" y="630" width="1" height="17" fill="#c0c0c0"/>
<rect x="886" y="625" width="1" height="22" fill="#c0c0c0"/>
<rect x="894" y="620" width="1" height="27" fill="#c0c0c0"/>
<rect x="902" y="616" width="1" height="31" fill="#c0c0c0"/>
<rect x="910" y="614" width="1" height="33" fill="#c0c0c0"/>
<rect x="918" y="613" width="1" height="34" fill="#c0c0c0"/>
<rect x="926" y="607" width="1" height="40" fill="#c0c0c0"/>
<rect x="934" y="602" width="1" height="45" fill="#c0c0c0"/>
<rect x="942" y="598" width="1" height="49" fill="#c0c0c0"/>
<rect x="950" y="597" width="1" height="50" fill="#c0c0c0"/>
<rect x="958" y="594" width="1" height="53" fill="#c0c0c0"/>
<rect x="966" y="592" width="1" height="55" fill="#c0c0c0"/>
<rect x="974" y="593" width="1" height="54" fill="#c0c0c0"/>
<rect x="982" y="595" width="1" height="52" fill="#c0c0c0"/>
<rect x="990" y="600" width="1" height="47" fill="#c0c0c0"/>
<rect x="998" y="606" width="1" height="41" fill="#c0c0c0"/>
<rect x="1006" y="610" width="1" height="37" fill="#c0c0c0"/>
<rect x="1014" y="615" width="1" height="32" fill="#c0c0c0"/>
<rect x="1022" y="623" width="1" height="24" fill="#c0c0c0"/>
<rect x="1030" y="629" width="1" height="18" fill="#c0c0c0"/>
<rect x="1038" y="633" width="1" height="14" fill="#c0c0c0"/>
<rect x="1046" y="638" width="1" height="9" fill="#c0c0c0"/>
<rect x="1054" y="644" width="1" height="3" fill="#c0c0c0"/>
<rect x="1062" y="646" width="1" height="3" fill="#c0c0c0"/>
<rect x="1070" y="646" width="1" height="6" fill="#c0c0c0"/>
<rect x="1078" y="646" width="1" height="9" fill="#c0c0c0"/>
<rect x="1086" y="646" width="1" height="14" fill="#c0c0c0"/>
<rect x="1094" y="646" width="1" height="19" fill="#c0c0c0"/>
<rect x="1102" y="646" width="1" height="22" fill="#c0c0c0"/>
<rect x="1110" y="646" width="1" height="23" fill="#c0c0c0"/>
<rect x="1118" y="646" width="1" height="26" fill="#c0c0c0"/>
<rect x="1126" y="646" width="1" height="26" fill="#c0c0c0"/>
<rect x="1134" y="646" width="1" height="26" fill="#c0c0c0"/>
<rect x="1142" y="646" width="1" height="25" fill="#c0c0c0"/>
<rect x="1150" y="646" width="1" height="24" fill="#c0c0c0"/>
<rect x="1158" y="646" width="1" height="23" fill="#c0c0c0"/>
<rect x="1166" y="646" width="1" height="23" fill="#c0c0c0"/>
<rect x="1174" y="646" width="1" height="23" fill="#c0c0c0"/>
<rect x="1182" y="646" width="1" height="23" fill="#c0c0c0"/>
<rect x="1190" y="646" width="1" height="23" fill="#c0c0c0"/>
<rect x="1198" y="646" width="1" height="23" fill="#c0c0c0"/>
<rect x="1206" y="646" width="1" height="24" fill="#c0c0c0"/>
<rect x="1214" y="646" width="1" height="24" fill="#c0c0c0"/>
<rect x="1222" y="646" width="1" height="27" fill="#c0c0c0"/>
<rect x="1230" y="646" width="1" height="28" fill="#c0c0c0"/>
<rect x="1238" y="646" width="1" height="27" fill="#c0c0c0"/>
<rect x="1246" y="646" width="1" height="19" fill="#c0c0c0"/>
<rect x="1254" y="646" width="1" height="12" fill="#c0c0c0"/>
<rect x="1262" y="646" width="1" height="3" fill="#c0c0c0"/>
<rect x="1270" y="644" width="1" height="3" fill="#c0c0c0"/>
<rect x="1278" y="639" width="1" height="8" fill="#c0c0c0"/>
<rect x="1286" y="636" width="1" height="11" fill="#c0c0c0"/>
<polyline points="0.0,643.8 6.5,640.4 14.5,633.2 22.5,625.7 30.5,621.1 38.5,616.7 46.5,610.0 54.5,602.2 62.5,600.0 70.5,599.4 78.5,599.3 86.5,599.5 94.5,599.9 102.5,600.2 110.5,600.3 118.5,600.1 126.5,599.5 134.5,598.2 142.5,596.8 150.5,595.6 158.5,595.6 166.5,595.6 174.5,595.6 182.5,597.0 190.5,600.0 198.5,603.6 206.5,607.2 214.5,611.4 222.5,616.1 230.5,621.0 238.5,626.4 246.5,631.7 254.5,634.5 262.5,635.8 270.5,636.1 278.5,635.3 286.5,635.2 294.5,635.2 302.5,635.2 310.5,635.2 318.5,635.2 326.5,635.2 334.5,635.2 342.5,635.2 350.5,635.7 358.5,637.2 366.5,637.7 374.5,638.1 382.5,638.9 390.5,639.9 398.5,640.7 406.5,641.2 414.5,642.4 422.5,644.2 430.5,645.4 438.5,647.5 446.5,651.8 454.5,656.0 462.5,659.2 470.5,663.0 478.5,668.5 486.5,675.2 494.5,682.8 502.5,691.0 510.5,699.2 518.5,707.9 526.5,718.5 534.5,728.6 542.5,735.9 550.5,741.4 558.5,746.2 566.5,748.8 574.5,750.0 582.5,750.7 590.5,751.0 598.5,751.0 606.5,750.9 614.5,750.7 622.5,750.4 630.5,749.5 638.5,748.0 646.5,745.8 654.5,742.0 662.5,737.5 670.5,731.5 678.5,724.4 686.5,717.1 694.5,709.2 702.5,701.5 710.5,694.0 718.5,688.2 726.5,683.5 734.5,677.5 742.5,672.2 750.5,671.3 758.5,670.9 766.5,671.1 774.5,671.7 782.5,672.9 790.5,673.7 798.5,674.3 806.5,674.6 814.5,674.7 822.5,674.5 830.5,674.1 838.5,673.5 846.5,672.4 854.5,670.4 862.5,667.7 870.5,664.3 878.5,659.8 886.5,654.4 894.5,648.6 902.5,642.4 910.5,637.0 918.5,631.7 926.5,626.2 934.5,620.3 942.5,614.7 950.5,610.1 958.5,606.1 966.5,602.7 974.5,599.7 982.5,597.8 990.5,596.7 998.5,596.1 1006.5,596.5 1014.5,598.0 1022.5,600.1 1030.5,603.4 1038.5,607.9 1046.5,613.7 1054.5,621.2 1062.5,627.8 1070.5,633.9 1078.5,639.0 1086.5,643.2 1094.5,647.3 1102.5,651.9 1110.5,656.3 1118.5,659.8 1126.5,662.8 1134.5,664.8 1142.5,666.3 1150.5,667.7 1158.5,669.4 1166.5,670.2 1174.5,670.2 1182.5,670.2 1190.5,670.2 1198.5,670.2 1206.5,669.9 1214.5,669.6 1222.5,670.6 1230.5,670.6 1238.5,670.5 1246.5,668.9 1254.5,668.2 1262.5,665.7 1270.5,662.9 1278.5,659.8 1286.0,656.4" fill="none" stroke="#ff0000" stroke-width="1" stroke-dasharray="4,3" shape-rendering="crispEdges"/>
<text x="2" y="594" font-size="10" fill="#000" text-anchor="start" font-weight="normal" font-family="'Liberation Sans', Arial, sans-serif" textLength="121" lengthAdjust="spacingAndGlyphs">MACD(12,26,9) 68.81 -56.95</text>
<rect x="1627" y="583" width="3" height="1" fill="#000"/>
<text x="1629.5" y="593" font-size="9.6" fill="#000" text-anchor="start" font-weight="normal" font-family="'Liberation Sans', Arial, sans-serif" textLength="28" lengthAdjust="spacingAndGlyphs">395.25</text>
<rect x="1627" y="646" width="3" height="1" fill="#000"/>
<text x="1629.5" y="650" font-size="9.6" fill="#000" text-anchor="start" font-weight="normal" font-family="'Liberation Sans', Arial, sans-serif" textLength="17.5" lengthAdjust="spacingAndGlyphs">0.00</text>
<rect x="1627" y="763" width="3" height="1" fill="#000"/>
<text x="1629.9" y="761" font-size="9.6" fill="#000" text-anchor="start" font-weight="normal" font-family="'Liberation Sans', Arial, sans-serif" textLength="31" lengthAdjust="spacingAndGlyphs">-723.16</text>
<path d="M0 799.5 H1626" stroke="#c0c0c0" stroke-dasharray="3,3"/>
<rect x="1627" y="799" width="3" height="1" fill="#000"/>
<text x="1630.5" y="803" font-size="9.6" fill="#000" text-anchor="start" font-weight="normal" font-family="'Liberation Sans', Arial, sans-serif" textLength="9.6" lengthAdjust="spacingAndGlyphs">80</text>
<path d="M0 846.5 H1626" stroke="#c0c0c0" stroke-dasharray="3,3"/>
<rect x="1627" y="846" width="3" height="1" fill="#000"/>
<text x="1630.5" y="850" font-size="9.6" fill="#000" text-anchor="start" font-weight="normal" font-family="'Liberation Sans', Arial, sans-serif" textLength="9.6" lengthAdjust="spacingAndGlyphs">50</text>
<path d="M0 902.5 H1626" stroke="#c0c0c0" stroke-dasharray="3,3"/>
<rect x="1627" y="902" width="3" height="1" fill="#000"/>
<text x="1630.5" y="906" font-size="9.6" fill="#000" text-anchor="start" font-weight="normal" font-family="'Liberation Sans', Arial, sans-serif" textLength="9.6" lengthAdjust="spacingAndGlyphs">15</text>
<rect x="1627" y="768" width="3" height="1" fill="#000"/>
<text x="1630.5" y="777" font-size="9.6" fill="#000" text-anchor="start" font-weight="normal" font-family="'Liberation Sans', Arial, sans-serif" textLength="14.4" lengthAdjust="spacingAndGlyphs">100</text>
<rect x="1627" y="920" width="3" height="1" fill="#000"/>
<text x="1630.5" y="923" font-size="9.6" fill="#000" text-anchor="start" font-weight="normal" font-family="'Liberation Sans', Arial, sans-serif" textLength="4.8" lengthAdjust="spacingAndGlyphs">0</text>
<polyline points="-1.5,810.0 6.5,809.2 14.5,814.2 22.5,814.2 30.5,813.2 38.5,816.2 46.5,830.3 54.5,830.3 62.5,831.3 70.5,831.3 78.5,818.2 86.5,817.2 94.5,825.0 102.5,823.3 110.5,809.4 118.5,814.2 126.5,817.2 134.5,816.2 142.5,817.2 150.5,821.2 158.5,820.2 166.5,825.5 174.5,850.1 182.5,848.1 190.5,858.2 198.5,858.2 206.5,853.1 214.5,853.1 222.5,838.3 230.5,842.3 238.5,838.3 246.5,839.3 254.5,838.3 262.5,840.3 270.5,837.6 278.5,836.3 286.5,841.3 294.5,837.3 302.5,845.6 310.5,848.4 318.5,830.5 326.5,829.3 334.5,844.8 342.5,852.4 350.5,851.4 358.5,848.1 366.5,835.6 374.5,844.8 382.5,843.3 390.5,843.8 398.5,850.6 406.5,854.9 414.5,866.9 422.5,862.5 430.5,859.9 438.5,861.9 446.5,873.2 454.5,873.2 462.5,879.0 470.5,881.2 478.5,893.3 486.5,894.1 494.5,902.1 502.5,903.3 510.5,904.1 518.5,901.1 526.5,903.3 534.5,894.1 542.5,888.0 550.5,889.0 558.5,889.0 566.5,890.8 574.5,892.0 582.5,897.1 590.5,900.1 598.5,901.6 606.5,894.1 614.5,895.8 622.5,895.8 630.5,879.5 638.5,869.4 646.5,867.7 654.5,846.9 662.5,845.1 670.5,844.3 678.5,844.3 686.5,845.6 694.5,843.3 702.5,855.1 710.5,855.1 718.5,848.6 726.5,846.9 734.5,873.2 742.5,860.2 750.5,860.2 758.5,860.2 766.5,863.2 774.5,863.9 782.5,867.0 790.5,858.2 798.5,850.6 806.5,857.4 814.5,861.2 822.5,860.2 830.5,861.2 838.5,860.9 846.5,845.6 854.5,823.5 862.5,822.2 870.5,826.3 878.5,821.2 886.5,823.5 894.5,821.5 902.5,821.5 910.5,821.5 918.5,823.5 926.5,811.2 934.5,810.2 942.5,810.2 950.5,812.5 958.5,809.7 966.5,806.2 974.5,821.0 982.5,823.3 990.5,834.3 998.5,840.1 1006.5,838.3 1014.5,842.3 1022.5,857.4 1030.5,853.4 1038.5,852.4 1046.5,855.9 1054.5,863.9 1062.5,866.9 1070.5,856.4 1078.5,858.4 1086.5,866.9 1094.5,872.5 1102.5,866.4 1110.5,865.4 1118.5,866.9 1126.5,865.2 1134.5,860.4 1142.5,861.4 1150.5,862.7 1158.5,865.9 1166.5,867.2 1174.5,851.4 1182.5,859.4 1190.5,867.9 1198.5,854.4 1206.5,859.4 1214.5,865.8 1222.5,868.0 1230.5,863.2 1238.5,858.7 1246.5,835.5 1254.5,832.4 1262.5,826.2 1270.5,829.0 1278.5,829.0 1286.5,831.0" fill="none" stroke="#1e90ff" stroke-width="1" shape-rendering="crispEdges"/>
<text x="2" y="779" font-size="10" fill="#000" text-anchor="start" font-weight="normal" font-family="'Liberation Sans', Arial, sans-serif" textLength="68" lengthAdjust="spacingAndGlyphs">RSI(14) 59.5074</text>
<text x="-2" y="939" font-size="10" fill="#000" text-anchor="start" font-weight="normal" font-family="'Liberation Sans', Arial, sans-serif" textLength="48.5" lengthAdjust="spacingAndGlyphs">20 Jun 2019</text>
<rect x="62" y="927" width="1" height="3" fill="#000"/>
<text x="61" y="939" font-size="10" fill="#000" text-anchor="start" font-weight="normal" font-family="'Liberation Sans', Arial, sans-serif" textLength="53.2" lengthAdjust="spacingAndGlyphs">26 Jun 01:15</text>
<rect x="126" y="927" width="1" height="3" fill="#000"/>
<text x="125" y="939" font-size="10" fill="#000" text-anchor="start" font-weight="normal" font-family="'Liberation Sans', Arial, sans-serif" textLength="44.4" lengthAdjust="spacingAndGlyphs">3 Jul 01:15</text>
<rect x="190" y="927" width="1" height="3" fill="#000"/>
<text x="189" y="939" font-size="10" fill="#000" text-anchor="start" font-weight="normal" font-family="'Liberation Sans', Arial, sans-serif" textLength="44" lengthAdjust="spacingAndGlyphs">9 Jul 01:15</text>
<rect x="254" y="927" width="1" height="3" fill="#000"/>
<text x="253" y="939" font-size="10" fill="#000" text-anchor="start" font-weight="normal" font-family="'Liberation Sans', Arial, sans-serif" textLength="49.5" lengthAdjust="spacingAndGlyphs">15 Jul 01:15</text>
<rect x="318" y="927" width="1" height="3" fill="#000"/>
<text x="317" y="939" font-size="10" fill="#000" text-anchor="start" font-weight="normal" font-family="'Liberation Sans', Arial, sans-serif" textLength="49" lengthAdjust="spacingAndGlyphs">19 Jul 01:15</text>
<rect x="382" y="927" width="1" height="3" fill="#000"/>
<text x="381" y="939" font-size="10" fill="#000" text-anchor="start" font-weight="normal" font-family="'Liberation Sans', Arial, sans-serif" textLength="49.5" lengthAdjust="spacingAndGlyphs">25 Jul 01:15</text>
<rect x="446" y="927" width="1" height="3" fill="#000"/>
<text x="445" y="939" font-size="10" fill="#000" text-anchor="start" font-weight="normal" font-family="'Liberation Sans', Arial, sans-serif" textLength="49.7" lengthAdjust="spacingAndGlyphs">31 Jul 01:15</text>
<rect x="510" y="927" width="1" height="3" fill="#000"/>
<text x="509" y="939" font-size="10" fill="#000" text-anchor="start" font-weight="normal" font-family="'Liberation Sans', Arial, sans-serif" textLength="50.7" lengthAdjust="spacingAndGlyphs">6 Aug 01:15</text>
<rect x="574" y="927" width="1" height="3" fill="#000"/>
<text x="573" y="939" font-size="10" fill="#000" text-anchor="start" font-weight="normal" font-family="'Liberation Sans', Arial, sans-serif" textLength="54.7" lengthAdjust="spacingAndGlyphs">12 Aug 01:15</text>
<rect x="638" y="927" width="1" height="3" fill="#000"/>
<text x="637" y="939" font-size="10" fill="#000" text-anchor="start" font-weight="normal" font-family="'Liberation Sans', Arial, sans-serif" textLength="55.5" lengthAdjust="spacingAndGlyphs">16 Aug 01:15</text>
<rect x="702" y="927" width="1" height="3" fill="#000"/>
<text x="701" y="939" font-size="10" fill="#000" text-anchor="start" font-weight="normal" font-family="'Liberation Sans', Arial, sans-serif" textLength="54.7" lengthAdjust="spacingAndGlyphs">22 Aug 01:15</text>
<rect x="766" y="927" width="1" height="3" fill="#000"/>
<text x="765" y="939" font-size="10" fill="#000" text-anchor="start" font-weight="normal" font-family="'Liberation Sans', Arial, sans-serif" textLength="54.8" lengthAdjust="spacingAndGlyphs">28 Aug 01:15</text>
<rect x="830" y="927" width="1" height="3" fill="#000"/>
<text x="829" y="939" font-size="10" fill="#000" text-anchor="start" font-weight="normal" font-family="'Liberation Sans', Arial, sans-serif" textLength="50.2" lengthAdjust="spacingAndGlyphs">3 Sep 01:15</text>
<rect x="894" y="927" width="1" height="3" fill="#000"/>
<text x="893" y="939" font-size="10" fill="#000" text-anchor="start" font-weight="normal" font-family="'Liberation Sans', Arial, sans-serif" textLength="50.2" lengthAdjust="spacingAndGlyphs">9 Sep 01:15</text>
<rect x="958" y="927" width="1" height="3" fill="#000"/>
<text x="957" y="939" font-size="10" fill="#000" text-anchor="start" font-weight="normal" font-family="'Liberation Sans', Arial, sans-serif" textLength="55.3" lengthAdjust="spacingAndGlyphs">13 Sep 01:15</text>
<rect x="1022" y="927" width="1" height="3" fill="#000"/>
<text x="1021" y="939" font-size="10" fill="#000" text-anchor="start" font-weight="normal" font-family="'Liberation Sans', Arial, sans-serif" textLength="54.7" lengthAdjust="spacingAndGlyphs">19 Sep 01:15</text>
<rect x="1086" y="927" width="1" height="3" fill="#000"/>
<text x="1085" y="939" font-size="10" fill="#000" text-anchor="start" font-weight="normal" font-family="'Liberation Sans', Arial, sans-serif" textLength="54.5" lengthAdjust="spacingAndGlyphs">25 Sep 01:15</text>
<rect x="1150" y="927" width="1" height="3" fill="#000"/>
<text x="1149" y="939" font-size="10" fill="#000" text-anchor="start" font-weight="normal" font-family="'Liberation Sans', Arial, sans-serif" textLength="48.2" lengthAdjust="spacingAndGlyphs">2 Oct 01:15</text>
<rect x="1214" y="927" width="1" height="3" fill="#000"/>
<text x="1213" y="939" font-size="10" fill="#000" text-anchor="start" font-weight="normal" font-family="'Liberation Sans', Arial, sans-serif" textLength="48.9" lengthAdjust="spacingAndGlyphs">9 Oct 01:15</text>
<rect x="1278" y="927" width="1" height="3" fill="#000"/>
<text x="1277" y="939" font-size="10" fill="#000" text-anchor="start" font-weight="normal" font-family="'Liberation Sans', Arial, sans-serif" textLength="54" lengthAdjust="spacingAndGlyphs">15 Oct 01:15</text>
</svg>
</body></html>
